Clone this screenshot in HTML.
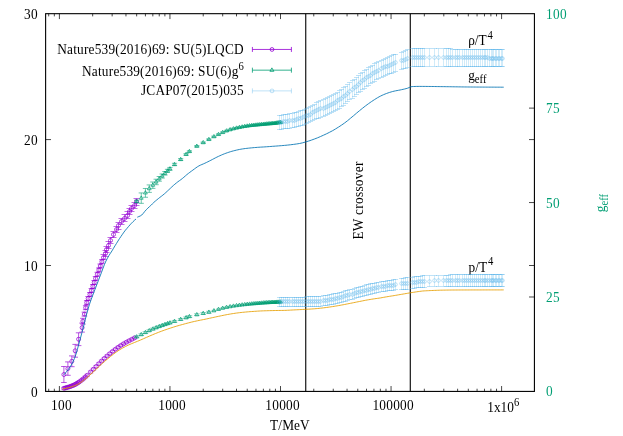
<!DOCTYPE html>
<html><head><meta charset="utf-8"><title>plot</title>
<style>html,body{margin:0;padding:0;background:#fff;}svg{display:block;will-change:transform;filter:blur(0.32px);}text{font-family:"Liberation Serif",serif;}</style></head>
<body>
<svg width="623" height="436" viewBox="0 0 623 436" font-family="'Liberation Serif', serif" font-size="13.33px">
<rect x="0" y="0" width="623" height="436" fill="#fff"/>
<path d="M48.69 391.42v-2.70M48.69 13.68v2.70M54.34 391.42v-2.70M54.34 13.68v2.70M59.40 391.42v-5.40M59.40 13.68v5.40M92.68 391.42v-2.70M92.68 13.68v2.70M112.15 391.42v-2.70M112.15 13.68v2.70M125.96 391.42v-2.70M125.96 13.68v2.70M136.67 391.42v-2.70M136.67 13.68v2.70M145.42 391.42v-2.70M145.42 13.68v2.70M152.83 391.42v-2.70M152.83 13.68v2.70M159.24 391.42v-2.70M159.24 13.68v2.70M164.89 391.42v-2.70M164.89 13.68v2.70M169.95 391.42v-5.40M169.95 13.68v5.40M203.23 391.42v-2.70M203.23 13.68v2.70M222.70 391.42v-2.70M222.70 13.68v2.70M236.51 391.42v-2.70M236.51 13.68v2.70M247.22 391.42v-2.70M247.22 13.68v2.70M255.97 391.42v-2.70M255.97 13.68v2.70M263.38 391.42v-2.70M263.38 13.68v2.70M269.79 391.42v-2.70M269.79 13.68v2.70M275.44 391.42v-2.70M275.44 13.68v2.70M280.50 391.42v-5.40M280.50 13.68v5.40M313.78 391.42v-2.70M313.78 13.68v2.70M333.25 391.42v-2.70M333.25 13.68v2.70M347.06 391.42v-2.70M347.06 13.68v2.70M357.77 391.42v-2.70M357.77 13.68v2.70M366.52 391.42v-2.70M366.52 13.68v2.70M373.93 391.42v-2.70M373.93 13.68v2.70M380.34 391.42v-2.70M380.34 13.68v2.70M385.99 391.42v-2.70M385.99 13.68v2.70M391.05 391.42v-5.40M391.05 13.68v5.40M424.33 391.42v-2.70M424.33 13.68v2.70M443.80 391.42v-2.70M443.80 13.68v2.70M457.61 391.42v-2.70M457.61 13.68v2.70M468.32 391.42v-2.70M468.32 13.68v2.70M477.07 391.42v-2.70M477.07 13.68v2.70M484.48 391.42v-2.70M484.48 13.68v2.70M490.89 391.42v-2.70M490.89 13.68v2.70M496.54 391.42v-2.70M496.54 13.68v2.70M501.60 391.42v-5.40M501.60 13.68v5.40M45.62 265.51h5.40M534.42 265.51h-5.40M45.62 139.59h5.40M534.42 139.59h-5.40M534.42 296.99h-5.40M534.42 202.55h-5.40M534.42 108.12h-5.40" stroke="#000" stroke-width="1" stroke-opacity="0.72" fill="none"/>
<text transform="translate(37.7 396.52) scale(1 1.080)" text-anchor="end" textLength="6.9">0</text>
<text transform="translate(37.7 270.61) scale(1 1.080)" text-anchor="end" textLength="13.7">10</text>
<text transform="translate(37.7 144.69) scale(1 1.080)" text-anchor="end" textLength="13.7">20</text>
<text transform="translate(37.7 18.78) scale(1 1.080)" text-anchor="end" textLength="13.7">30</text>
<text transform="translate(546 396.42) scale(1 1.080)" fill="#009E73" textLength="6.9">0</text>
<text transform="translate(546 301.99) scale(1 1.080)" fill="#009E73" textLength="13.7">25</text>
<text transform="translate(546 207.55) scale(1 1.080)" fill="#009E73" textLength="13.7">50</text>
<text transform="translate(546 113.12) scale(1 1.080)" fill="#009E73" textLength="13.7">75</text>
<text transform="translate(546 18.68) scale(1 1.080)" fill="#009E73" textLength="20.6">100</text>
<text transform="translate(61.40 409.8) scale(1 1.080)" text-anchor="middle" textLength="20.6">100</text>
<text transform="translate(171.95 409.8) scale(1 1.080)" text-anchor="middle" textLength="27.5">1000</text>
<text transform="translate(282.50 409.8) scale(1 1.080)" text-anchor="middle" textLength="34.3">10000</text>
<text transform="translate(393.05 409.8) scale(1 1.080)" text-anchor="middle" textLength="41.2">100000</text>
<text transform="translate(487.3 412.2) scale(1 1.080)">1x10<tspan font-size="10.66px" dy="-6.2">6</tspan></text>
<text transform="translate(289.9 430.1) scale(1 1.080)" text-anchor="middle" textLength="39.6">T/MeV</text>
<text transform="translate(605.0 212.2) rotate(-90) scale(1 1.080)" fill="#009E73">g<tspan font-size="10.66px" dy="2.6">eff</tspan></text>
<text transform="translate(362.6 239.6) rotate(-90) scale(1 1.080)" textLength="78">EW crossover</text>
<text transform="translate(468.2 45.3) scale(1 1.080)">ρ/T<tspan font-size="10.66px" dy="-6.2" dx="0.8">4</tspan></text>
<text transform="translate(468.2 79.9) scale(1 1.080)">g<tspan font-size="10.66px" dy="2.6">eff</tspan></text>
<text transform="translate(468.6 271.9) scale(1 1.080)">p/T<tspan font-size="10.66px" dy="-6.2" dx="0.8">4</tspan></text>
<text transform="translate(57.2 53.7) scale(1 1.080)" textLength="186.4">Nature539(2016)69: SU(5)LQCD</text>
<path d="M252.40 49.45H291.40M252.40 46.95v5.00M291.40 46.95v5.00" stroke="#9400D3" stroke-width="1.00" stroke-opacity="0.80" fill="none"/>
<circle cx="272.00" cy="49.45" r="1.90" fill="none" stroke="#9400D3" stroke-width="1.00" stroke-opacity="0.80"/>
<text transform="translate(82.0 76.0) scale(1 1.080)" textLength="156.4">Nature539(2016)69: SU(6)g</text>
<text transform="translate(238.6 69.8) scale(1 1.080)" font-size="10.66px">6</text>
<path d="M252.40 70.17H291.40M252.40 67.67v5.00M291.40 67.67v5.00" stroke="#009E73" stroke-width="1.00" stroke-opacity="0.80" fill="none"/>
<path d="M271.90 67.87L269.91 71.32L273.89 71.32Z" fill="none" stroke="#009E73" stroke-width="1.00" stroke-opacity="0.80"/>
<text transform="translate(141.0 95.1) scale(1 1.080)" textLength="102.6">JCAP07(2015)035</text>
<path d="M252.40 90.89H291.40M252.40 88.39v5.00M291.40 88.39v5.00" stroke="#56B4E9" stroke-width="1.00" stroke-opacity="0.38" fill="none"/>
<circle cx="272.00" cy="90.89" r="1.90" fill="none" stroke="#56B4E9" stroke-width="1.00" stroke-opacity="0.38"/>
<path d="M305.75 13.68V391.42M410.28 13.68V391.42" stroke="#000" stroke-width="1.1" fill="none"/>
<g><path d="M63.90 366.50V382.50M61.10 366.50H66.70M61.10 382.50H66.70" stroke="#9400D3" stroke-width="1.00" stroke-opacity="0.65" fill="none"/><circle cx="63.90" cy="374.50" r="2.00" fill="none" stroke="#9400D3" stroke-width="1.00" stroke-opacity="0.72"/><path d="M67.90 361.90V375.30M65.10 361.90H70.70M65.10 375.30H70.70" stroke="#9400D3" stroke-width="1.00" stroke-opacity="0.65" fill="none"/><circle cx="67.90" cy="368.60" r="2.00" fill="none" stroke="#9400D3" stroke-width="1.00" stroke-opacity="0.72"/><path d="M71.80 355.90V366.70M69.00 355.90H74.60M69.00 366.70H74.60" stroke="#9400D3" stroke-width="1.00" stroke-opacity="0.65" fill="none"/><circle cx="71.80" cy="361.30" r="2.00" fill="none" stroke="#9400D3" stroke-width="1.00" stroke-opacity="0.72"/><path d="M75.20 344.40V357.20M72.40 344.40H78.00M72.40 357.20H78.00" stroke="#9400D3" stroke-width="1.00" stroke-opacity="0.65" fill="none"/><circle cx="75.20" cy="350.80" r="2.00" fill="none" stroke="#9400D3" stroke-width="1.00" stroke-opacity="0.72"/><path d="M78.60 332.80V345.60M75.80 332.80H81.40M75.80 345.60H81.40" stroke="#9400D3" stroke-width="1.00" stroke-opacity="0.65" fill="none"/><circle cx="78.60" cy="339.20" r="2.00" fill="none" stroke="#9400D3" stroke-width="1.00" stroke-opacity="0.72"/><path d="M82.10 323.10V332.10M79.30 323.10H84.90M79.30 332.10H84.90" stroke="#9400D3" stroke-width="1.00" stroke-opacity="0.65" fill="none"/><circle cx="82.10" cy="327.60" r="2.00" fill="none" stroke="#9400D3" stroke-width="1.00" stroke-opacity="0.72"/><path d="M82.90 318.30V324.10M80.10 318.30H85.70M80.10 324.10H85.70" stroke="#9400D3" stroke-width="1.00" stroke-opacity="0.65" fill="none"/><circle cx="82.90" cy="321.20" r="2.00" fill="none" stroke="#9400D3" stroke-width="1.00" stroke-opacity="0.72"/><path d="M84.40 312.10V316.10M81.60 312.10H87.20M81.60 316.10H87.20" stroke="#9400D3" stroke-width="1.00" stroke-opacity="0.65" fill="none"/><circle cx="84.40" cy="314.10" r="2.00" fill="none" stroke="#9400D3" stroke-width="1.00" stroke-opacity="0.72"/><path d="M85.70 305.70V309.70M82.90 305.70H88.50M82.90 309.70H88.50" stroke="#9400D3" stroke-width="1.00" stroke-opacity="0.65" fill="none"/><circle cx="85.70" cy="307.70" r="2.00" fill="none" stroke="#9400D3" stroke-width="1.00" stroke-opacity="0.72"/><path d="M86.74 300.60V304.60M83.94 300.60H89.54M83.94 304.60H89.54" stroke="#9400D3" stroke-width="1.00" stroke-opacity="0.65" fill="none"/><circle cx="86.74" cy="302.60" r="2.00" fill="none" stroke="#9400D3" stroke-width="1.00" stroke-opacity="0.72"/><path d="M88.13 296.50V300.50M85.33 296.50H90.93M85.33 300.50H90.93" stroke="#9400D3" stroke-width="1.00" stroke-opacity="0.65" fill="none"/><circle cx="88.13" cy="298.50" r="2.00" fill="none" stroke="#9400D3" stroke-width="1.00" stroke-opacity="0.72"/><path d="M89.92 292.50V296.50M87.12 292.50H92.72M87.12 296.50H92.72" stroke="#9400D3" stroke-width="1.00" stroke-opacity="0.65" fill="none"/><circle cx="89.92" cy="294.50" r="2.00" fill="none" stroke="#9400D3" stroke-width="1.00" stroke-opacity="0.72"/><path d="M91.42 288.50V292.50M88.62 288.50H94.22M88.62 292.50H94.22" stroke="#9400D3" stroke-width="1.00" stroke-opacity="0.65" fill="none"/><circle cx="91.42" cy="290.50" r="2.00" fill="none" stroke="#9400D3" stroke-width="1.00" stroke-opacity="0.72"/><path d="M92.87 284.50V288.50M90.07 284.50H95.67M90.07 288.50H95.67" stroke="#9400D3" stroke-width="1.00" stroke-opacity="0.65" fill="none"/><circle cx="92.87" cy="286.50" r="2.00" fill="none" stroke="#9400D3" stroke-width="1.00" stroke-opacity="0.72"/><path d="M94.21 280.50V284.50M91.41 280.50H97.01M91.41 284.50H97.01" stroke="#9400D3" stroke-width="1.00" stroke-opacity="0.65" fill="none"/><circle cx="94.21" cy="282.50" r="2.00" fill="none" stroke="#9400D3" stroke-width="1.00" stroke-opacity="0.72"/><path d="M95.55 276.50V280.50M92.75 276.50H98.35M92.75 280.50H98.35" stroke="#9400D3" stroke-width="1.00" stroke-opacity="0.65" fill="none"/><circle cx="95.55" cy="278.50" r="2.00" fill="none" stroke="#9400D3" stroke-width="1.00" stroke-opacity="0.72"/><path d="M97.32 272.30V276.30M94.52 272.30H100.12M94.52 276.30H100.12" stroke="#9400D3" stroke-width="1.00" stroke-opacity="0.65" fill="none"/><circle cx="97.32" cy="274.30" r="2.00" fill="none" stroke="#9400D3" stroke-width="1.00" stroke-opacity="0.72"/><path d="M98.88 268.00V272.00M96.08 268.00H101.68M96.08 272.00H101.68" stroke="#9400D3" stroke-width="1.00" stroke-opacity="0.65" fill="none"/><circle cx="98.88" cy="270.00" r="2.00" fill="none" stroke="#9400D3" stroke-width="1.00" stroke-opacity="0.72"/><path d="M100.27 264.00V268.00M97.47 264.00H103.07M97.47 268.00H103.07" stroke="#9400D3" stroke-width="1.00" stroke-opacity="0.65" fill="none"/><circle cx="100.27" cy="266.00" r="2.00" fill="none" stroke="#9400D3" stroke-width="1.00" stroke-opacity="0.72"/><path d="M101.90 259.68V263.72M99.10 259.68H104.70M99.10 263.72H104.70" stroke="#9400D3" stroke-width="1.00" stroke-opacity="0.65" fill="none"/><circle cx="101.90" cy="261.70" r="2.00" fill="none" stroke="#9400D3" stroke-width="1.00" stroke-opacity="0.72"/><path d="M103.50 254.50V259.50M100.50 254.50H106.50M100.50 259.50H106.50" stroke="#9400D3" stroke-width="1.00" stroke-opacity="0.58" fill="none"/><circle cx="103.50" cy="257.50" r="2.00" fill="none" stroke="#9400D3" stroke-width="1.00" stroke-opacity="0.72"/><path d="M105.50 250.50V256.50M102.50 250.50H108.50M102.50 256.50H108.50" stroke="#9400D3" stroke-width="1.00" stroke-opacity="0.58" fill="none"/><circle cx="105.50" cy="253.50" r="2.00" fill="none" stroke="#9400D3" stroke-width="1.00" stroke-opacity="0.72"/><path d="M106.50 246.50V252.50M103.50 246.50H109.50M103.50 252.50H109.50" stroke="#9400D3" stroke-width="1.00" stroke-opacity="0.58" fill="none"/><circle cx="106.50" cy="249.50" r="2.00" fill="none" stroke="#9400D3" stroke-width="1.00" stroke-opacity="0.72"/><path d="M108.50 241.50V248.50M105.50 241.50H111.50M105.50 248.50H111.50" stroke="#9400D3" stroke-width="1.00" stroke-opacity="0.58" fill="none"/><circle cx="108.50" cy="245.50" r="2.00" fill="none" stroke="#9400D3" stroke-width="1.00" stroke-opacity="0.72"/><path d="M110.50 237.50V243.50M107.50 237.50H113.50M107.50 243.50H113.50" stroke="#9400D3" stroke-width="1.00" stroke-opacity="0.58" fill="none"/><circle cx="110.50" cy="240.50" r="2.00" fill="none" stroke="#9400D3" stroke-width="1.00" stroke-opacity="0.72"/><path d="M113.50 231.50V237.50M110.50 231.50H116.50M110.50 237.50H116.50" stroke="#9400D3" stroke-width="1.00" stroke-opacity="0.58" fill="none"/><circle cx="113.50" cy="234.50" r="2.00" fill="none" stroke="#9400D3" stroke-width="1.00" stroke-opacity="0.72"/><path d="M116.50 226.50V232.50M113.50 226.50H119.50M113.50 232.50H119.50" stroke="#9400D3" stroke-width="1.00" stroke-opacity="0.58" fill="none"/><circle cx="116.50" cy="229.50" r="2.00" fill="none" stroke="#9400D3" stroke-width="1.00" stroke-opacity="0.72"/><path d="M118.50 222.50V229.50M115.50 222.50H121.50M115.50 229.50H121.50" stroke="#9400D3" stroke-width="1.00" stroke-opacity="0.58" fill="none"/><circle cx="118.50" cy="225.50" r="2.00" fill="none" stroke="#9400D3" stroke-width="1.00" stroke-opacity="0.72"/><path d="M121.50 218.50V224.50M118.50 218.50H124.50M118.50 224.50H124.50" stroke="#9400D3" stroke-width="1.00" stroke-opacity="0.58" fill="none"/><circle cx="121.50" cy="221.50" r="2.00" fill="none" stroke="#9400D3" stroke-width="1.00" stroke-opacity="0.72"/><path d="M124.50 214.50V221.50M121.50 214.50H127.50M121.50 221.50H127.50" stroke="#9400D3" stroke-width="1.00" stroke-opacity="0.58" fill="none"/><circle cx="124.50" cy="218.50" r="2.00" fill="none" stroke="#9400D3" stroke-width="1.00" stroke-opacity="0.72"/><path d="M127.50 211.50V218.50M124.50 211.50H130.50M124.50 218.50H130.50" stroke="#9400D3" stroke-width="1.00" stroke-opacity="0.58" fill="none"/><circle cx="127.50" cy="215.50" r="2.00" fill="none" stroke="#9400D3" stroke-width="1.00" stroke-opacity="0.72"/><path d="M129.50 208.50V214.50M126.50 208.50H132.50M126.50 214.50H132.50" stroke="#9400D3" stroke-width="1.00" stroke-opacity="0.58" fill="none"/><circle cx="129.50" cy="211.50" r="2.00" fill="none" stroke="#9400D3" stroke-width="1.00" stroke-opacity="0.72"/><path d="M131.50 205.50V211.50M128.50 205.50H134.50M128.50 211.50H134.50" stroke="#9400D3" stroke-width="1.00" stroke-opacity="0.58" fill="none"/><circle cx="131.50" cy="208.50" r="2.00" fill="none" stroke="#9400D3" stroke-width="1.00" stroke-opacity="0.72"/><path d="M134.50 202.50V208.50M131.50 202.50H137.50M131.50 208.50H137.50" stroke="#9400D3" stroke-width="1.00" stroke-opacity="0.58" fill="none"/><circle cx="134.50" cy="205.50" r="2.00" fill="none" stroke="#9400D3" stroke-width="1.00" stroke-opacity="0.72"/><path d="M136.50 198.50V205.50M133.50 198.50H139.50M133.50 205.50H139.50" stroke="#9400D3" stroke-width="1.00" stroke-opacity="0.58" fill="none"/><circle cx="136.50" cy="201.50" r="2.00" fill="none" stroke="#9400D3" stroke-width="1.00" stroke-opacity="0.72"/><path d="M136.67 200.28V202.68M134.07 200.28H139.27M134.07 202.68H139.27" stroke="#009E73" stroke-width="1.00" stroke-opacity="0.58" fill="none"/><path d="M136.67 199.28L134.77 202.58L138.58 202.58Z" fill="none" stroke="#009E73" stroke-width="1.00" stroke-opacity="0.72"/><path d="M141.25 192.93V203.33M138.65 192.93H143.85M138.65 203.33H143.85" stroke="#009E73" stroke-width="1.00" stroke-opacity="0.58" fill="none"/><path d="M141.25 195.93L139.34 199.23L143.15 199.23Z" fill="none" stroke="#009E73" stroke-width="1.00" stroke-opacity="0.72"/><path d="M145.42 188.49V197.28M142.82 188.49H148.02M142.82 197.28H148.02" stroke="#009E73" stroke-width="1.00" stroke-opacity="0.58" fill="none"/><path d="M145.42 190.69L143.52 193.99L147.33 193.99Z" fill="none" stroke="#009E73" stroke-width="1.00" stroke-opacity="0.72"/><path d="M149.27 184.91V192.37M146.67 184.91H151.87M146.67 192.37H151.87" stroke="#009E73" stroke-width="1.00" stroke-opacity="0.58" fill="none"/><path d="M149.27 186.44L147.36 189.74L151.17 189.74Z" fill="none" stroke="#009E73" stroke-width="1.00" stroke-opacity="0.72"/><path d="M152.83 181.99V188.36M150.23 181.99H155.43M150.23 188.36H155.43" stroke="#009E73" stroke-width="1.00" stroke-opacity="0.58" fill="none"/><path d="M152.83 182.98L150.92 186.28L154.73 186.28Z" fill="none" stroke="#009E73" stroke-width="1.00" stroke-opacity="0.72"/><path d="M156.14 179.23V184.69M153.54 179.23H158.74M153.54 184.69H158.74" stroke="#009E73" stroke-width="1.00" stroke-opacity="0.58" fill="none"/><path d="M156.14 179.76L154.23 183.06L158.04 183.06Z" fill="none" stroke="#009E73" stroke-width="1.00" stroke-opacity="0.72"/><path d="M159.24 176.50V181.22M156.64 176.50H161.84M156.64 181.22H161.84" stroke="#009E73" stroke-width="1.00" stroke-opacity="0.58" fill="none"/><path d="M159.24 176.66L157.33 179.96L161.14 179.96Z" fill="none" stroke="#009E73" stroke-width="1.00" stroke-opacity="0.72"/><path d="M162.15 174.00V178.10M159.55 174.00H164.75M159.55 178.10H164.75" stroke="#009E73" stroke-width="1.00" stroke-opacity="0.58" fill="none"/><path d="M162.15 173.85L160.24 177.15L164.05 177.15Z" fill="none" stroke="#009E73" stroke-width="1.00" stroke-opacity="0.72"/><path d="M164.89 171.51V175.11M162.29 171.51H167.49M162.29 175.11H167.49" stroke="#009E73" stroke-width="1.00" stroke-opacity="0.58" fill="none"/><path d="M164.89 171.11L162.99 174.41L166.80 174.41Z" fill="none" stroke="#009E73" stroke-width="1.00" stroke-opacity="0.72"/><path d="M167.49 169.34V172.51M164.89 169.34H170.09M164.89 172.51H170.09" stroke="#009E73" stroke-width="1.00" stroke-opacity="0.58" fill="none"/><path d="M167.49 168.72L165.58 172.02L169.39 172.02Z" fill="none" stroke="#009E73" stroke-width="1.00" stroke-opacity="0.72"/><path d="M169.95 167.44V170.27M167.35 167.44H172.55M167.35 170.27H172.55" stroke="#009E73" stroke-width="1.00" stroke-opacity="0.58" fill="none"/><path d="M169.95 166.66L168.04 169.96L171.86 169.96Z" fill="none" stroke="#009E73" stroke-width="1.00" stroke-opacity="0.72"/><path d="M174.53 163.31V165.62M171.93 163.31H177.13M171.93 165.62H177.13" stroke="#009E73" stroke-width="1.00" stroke-opacity="0.58" fill="none"/><path d="M174.53 162.27L172.62 165.57L176.43 165.57Z" fill="none" stroke="#009E73" stroke-width="1.00" stroke-opacity="0.72"/><path d="M180.66 158.61V160.43M178.06 158.61H183.26M178.06 160.43H183.26" stroke="#009E73" stroke-width="1.00" stroke-opacity="0.58" fill="none"/><path d="M180.66 157.32L178.76 160.62L182.57 160.62Z" fill="none" stroke="#009E73" stroke-width="1.00" stroke-opacity="0.72"/><path d="M186.10 153.61V155.16M183.50 153.61H188.70M183.50 155.16H188.70" stroke="#009E73" stroke-width="1.00" stroke-opacity="0.58" fill="none"/><path d="M186.10 152.19L184.20 155.49L188.01 155.49Z" fill="none" stroke="#009E73" stroke-width="1.00" stroke-opacity="0.72"/><path d="M189.42 150.79V152.23M186.82 150.79H192.02M186.82 152.23H192.02" stroke="#009E73" stroke-width="1.00" stroke-opacity="0.58" fill="none"/><path d="M189.42 149.31L187.51 152.61L191.32 152.61Z" fill="none" stroke="#009E73" stroke-width="1.00" stroke-opacity="0.72"/><path d="M196.82 145.58V146.87M194.22 145.58H199.42M194.22 146.87H199.42" stroke="#009E73" stroke-width="1.00" stroke-opacity="0.58" fill="none"/><path d="M196.82 144.03L194.91 147.33L198.72 147.33Z" fill="none" stroke="#009E73" stroke-width="1.00" stroke-opacity="0.72"/><path d="M203.23 142.01V143.24M200.63 142.01H205.83M200.63 143.24H205.83" stroke="#009E73" stroke-width="1.00" stroke-opacity="0.58" fill="none"/><path d="M203.23 140.43L201.32 143.73L205.13 143.73Z" fill="none" stroke="#009E73" stroke-width="1.00" stroke-opacity="0.72"/><path d="M208.88 138.85V140.06M206.28 138.85H211.48M206.28 140.06H211.48" stroke="#009E73" stroke-width="1.00" stroke-opacity="0.58" fill="none"/><path d="M208.88 137.25L206.98 140.55L210.79 140.55Z" fill="none" stroke="#009E73" stroke-width="1.00" stroke-opacity="0.72"/><path d="M213.94 136.08V137.28M211.34 136.08H216.54M211.34 137.28H216.54" stroke="#009E73" stroke-width="1.00" stroke-opacity="0.58" fill="none"/><path d="M213.94 134.48L212.04 137.78L215.85 137.78Z" fill="none" stroke="#009E73" stroke-width="1.00" stroke-opacity="0.72"/><path d="M218.52 133.84V135.05M215.92 133.84H221.12M215.92 135.05H221.12" stroke="#009E73" stroke-width="1.00" stroke-opacity="0.58" fill="none"/><path d="M218.52 132.24L216.61 135.54L220.42 135.54Z" fill="none" stroke="#009E73" stroke-width="1.00" stroke-opacity="0.72"/><path d="M222.70 131.87V133.08M220.10 131.87H225.30M220.10 133.08H225.30" stroke="#009E73" stroke-width="1.00" stroke-opacity="0.58" fill="none"/><path d="M222.70 130.27L220.79 133.57L224.60 133.57Z" fill="none" stroke="#009E73" stroke-width="1.00" stroke-opacity="0.72"/><path d="M226.54 130.30V131.51M223.94 130.30H229.14M223.94 131.51H229.14" stroke="#009E73" stroke-width="1.00" stroke-opacity="0.58" fill="none"/><path d="M226.54 128.70L224.63 132.00L228.44 132.00Z" fill="none" stroke="#009E73" stroke-width="1.00" stroke-opacity="0.72"/><path d="M230.10 129.12V130.32M227.50 129.12H232.70M227.50 130.32H232.70" stroke="#009E73" stroke-width="1.00" stroke-opacity="0.58" fill="none"/><path d="M230.10 127.52L228.19 130.82L232.00 130.82Z" fill="none" stroke="#009E73" stroke-width="1.00" stroke-opacity="0.72"/><path d="M233.41 128.18V129.38M230.81 128.18H236.01M230.81 129.38H236.01" stroke="#009E73" stroke-width="1.00" stroke-opacity="0.58" fill="none"/><path d="M233.41 126.58L231.50 129.88L235.31 129.88Z" fill="none" stroke="#009E73" stroke-width="1.00" stroke-opacity="0.72"/><path d="M236.51 127.43V128.63M233.91 127.43H239.11M233.91 128.63H239.11" stroke="#009E73" stroke-width="1.00" stroke-opacity="0.58" fill="none"/><path d="M236.51 125.83L234.60 129.13L238.41 129.13Z" fill="none" stroke="#009E73" stroke-width="1.00" stroke-opacity="0.72"/><path d="M239.42 126.81V128.01M236.82 126.81H242.02M236.82 128.01H242.02" stroke="#009E73" stroke-width="1.00" stroke-opacity="0.58" fill="none"/><path d="M239.42 125.21L237.51 128.51L241.32 128.51Z" fill="none" stroke="#009E73" stroke-width="1.00" stroke-opacity="0.72"/><path d="M242.16 126.29V127.49M239.56 126.29H244.76M239.56 127.49H244.76" stroke="#009E73" stroke-width="1.00" stroke-opacity="0.58" fill="none"/><path d="M242.16 124.69L240.26 127.99L244.07 127.99Z" fill="none" stroke="#009E73" stroke-width="1.00" stroke-opacity="0.72"/><path d="M244.76 125.82V127.02M242.16 125.82H247.36M242.16 127.02H247.36" stroke="#009E73" stroke-width="1.00" stroke-opacity="0.58" fill="none"/><path d="M244.76 124.22L242.85 127.52L246.66 127.52Z" fill="none" stroke="#009E73" stroke-width="1.00" stroke-opacity="0.72"/><path d="M247.22 125.41V126.61M244.62 125.41H249.82M244.62 126.61H249.82" stroke="#009E73" stroke-width="1.00" stroke-opacity="0.58" fill="none"/><path d="M247.22 123.81L245.32 127.11L249.13 127.11Z" fill="none" stroke="#009E73" stroke-width="1.00" stroke-opacity="0.72"/><path d="M249.56 125.07V126.27M246.96 125.07H252.16M246.96 126.27H252.16" stroke="#009E73" stroke-width="1.00" stroke-opacity="0.58" fill="none"/><path d="M249.56 123.47L247.66 126.77L251.47 126.77Z" fill="none" stroke="#009E73" stroke-width="1.00" stroke-opacity="0.72"/><path d="M251.80 124.81V126.01M249.20 124.81H254.40M249.20 126.01H254.40" stroke="#009E73" stroke-width="1.00" stroke-opacity="0.58" fill="none"/><path d="M251.80 123.21L249.89 126.51L253.70 126.51Z" fill="none" stroke="#009E73" stroke-width="1.00" stroke-opacity="0.72"/><path d="M253.93 124.59V125.79M251.33 124.59H256.53M251.33 125.79H256.53" stroke="#009E73" stroke-width="1.00" stroke-opacity="0.58" fill="none"/><path d="M253.93 122.99L252.03 126.29L255.84 126.29Z" fill="none" stroke="#009E73" stroke-width="1.00" stroke-opacity="0.72"/><path d="M255.97 124.40V125.60M253.37 124.40H258.57M253.37 125.60H258.57" stroke="#009E73" stroke-width="1.00" stroke-opacity="0.58" fill="none"/><path d="M255.97 122.80L254.07 126.10L257.88 126.10Z" fill="none" stroke="#009E73" stroke-width="1.00" stroke-opacity="0.72"/><path d="M257.93 124.22V125.42M255.33 124.22H260.53M255.33 125.42H260.53" stroke="#009E73" stroke-width="1.00" stroke-opacity="0.58" fill="none"/><path d="M257.93 122.62L256.03 125.92L259.84 125.92Z" fill="none" stroke="#009E73" stroke-width="1.00" stroke-opacity="0.72"/><path d="M259.82 124.03V125.23M257.22 124.03H262.42M257.22 125.23H262.42" stroke="#009E73" stroke-width="1.00" stroke-opacity="0.58" fill="none"/><path d="M259.82 122.43L257.91 125.73L261.72 125.73Z" fill="none" stroke="#009E73" stroke-width="1.00" stroke-opacity="0.72"/><path d="M261.63 123.85V125.05M259.03 123.85H264.23M259.03 125.05H264.23" stroke="#009E73" stroke-width="1.00" stroke-opacity="0.58" fill="none"/><path d="M261.63 122.25L259.72 125.55L263.53 125.55Z" fill="none" stroke="#009E73" stroke-width="1.00" stroke-opacity="0.72"/><path d="M263.38 123.67V124.87M260.78 123.67H265.98M260.78 124.87H265.98" stroke="#009E73" stroke-width="1.00" stroke-opacity="0.58" fill="none"/><path d="M263.38 122.07L261.47 125.37L265.28 125.37Z" fill="none" stroke="#009E73" stroke-width="1.00" stroke-opacity="0.72"/><path d="M265.06 123.51V124.71M262.46 123.51H267.66M262.46 124.71H267.66" stroke="#009E73" stroke-width="1.00" stroke-opacity="0.58" fill="none"/><path d="M265.06 121.91L263.16 125.21L266.97 125.21Z" fill="none" stroke="#009E73" stroke-width="1.00" stroke-opacity="0.72"/><path d="M266.69 123.36V124.56M264.09 123.36H269.29M264.09 124.56H269.29" stroke="#009E73" stroke-width="1.00" stroke-opacity="0.58" fill="none"/><path d="M266.69 121.76L264.78 125.06L268.59 125.06Z" fill="none" stroke="#009E73" stroke-width="1.00" stroke-opacity="0.72"/><path d="M268.26 123.22V124.42M265.66 123.22H270.86M265.66 124.42H270.86" stroke="#009E73" stroke-width="1.00" stroke-opacity="0.58" fill="none"/><path d="M268.26 121.62L266.36 124.92L270.17 124.92Z" fill="none" stroke="#009E73" stroke-width="1.00" stroke-opacity="0.72"/><path d="M269.79 123.10V124.30M267.19 123.10H272.39M267.19 124.30H272.39" stroke="#009E73" stroke-width="1.00" stroke-opacity="0.58" fill="none"/><path d="M269.79 121.50L267.88 124.80L271.69 124.80Z" fill="none" stroke="#009E73" stroke-width="1.00" stroke-opacity="0.72"/><path d="M271.26 122.98V124.18M268.66 122.98H273.86M268.66 124.18H273.86" stroke="#009E73" stroke-width="1.00" stroke-opacity="0.58" fill="none"/><path d="M271.26 121.38L269.36 124.68L273.17 124.68Z" fill="none" stroke="#009E73" stroke-width="1.00" stroke-opacity="0.72"/><path d="M272.70 122.85V124.05M270.10 122.85H275.30M270.10 124.05H275.30" stroke="#009E73" stroke-width="1.00" stroke-opacity="0.58" fill="none"/><path d="M272.70 121.25L270.79 124.55L274.60 124.55Z" fill="none" stroke="#009E73" stroke-width="1.00" stroke-opacity="0.72"/><path d="M274.09 122.71V123.91M271.49 122.71H276.69M271.49 123.91H276.69" stroke="#009E73" stroke-width="1.00" stroke-opacity="0.58" fill="none"/><path d="M274.09 121.11L272.18 124.41L275.99 124.41Z" fill="none" stroke="#009E73" stroke-width="1.00" stroke-opacity="0.72"/><path d="M275.44 122.55V123.75M272.84 122.55H278.04M272.84 123.75H278.04" stroke="#009E73" stroke-width="1.00" stroke-opacity="0.58" fill="none"/><path d="M275.44 120.95L273.54 124.25L277.35 124.25Z" fill="none" stroke="#009E73" stroke-width="1.00" stroke-opacity="0.72"/><path d="M276.76 122.37V123.57M274.16 122.37H279.36M274.16 123.57H279.36" stroke="#009E73" stroke-width="1.00" stroke-opacity="0.58" fill="none"/><path d="M276.76 120.77L274.85 124.07L278.66 124.07Z" fill="none" stroke="#009E73" stroke-width="1.00" stroke-opacity="0.72"/><path d="M278.04 122.19V123.39M275.44 122.19H280.64M275.44 123.39H280.64" stroke="#009E73" stroke-width="1.00" stroke-opacity="0.58" fill="none"/><path d="M278.04 120.59L276.13 123.89L279.94 123.89Z" fill="none" stroke="#009E73" stroke-width="1.00" stroke-opacity="0.72"/><path d="M279.28 122.00V123.20M276.68 122.00H281.88M276.68 123.20H281.88" stroke="#009E73" stroke-width="1.00" stroke-opacity="0.58" fill="none"/><path d="M279.28 120.40L277.38 123.70L281.19 123.70Z" fill="none" stroke="#009E73" stroke-width="1.00" stroke-opacity="0.72"/><path d="M280.50 121.81V123.01M277.90 121.81H283.10M277.90 123.01H283.10" stroke="#009E73" stroke-width="1.00" stroke-opacity="0.58" fill="none"/><path d="M280.50 120.21L278.59 123.51L282.41 123.51Z" fill="none" stroke="#009E73" stroke-width="1.00" stroke-opacity="0.72"/><path d="M279.50 115.50V129.50" stroke="#56B4E9" stroke-width="1.00" stroke-opacity="0.27" fill="none"/><path d="M277.00 115.50H282.00M277.00 129.50H282.00" stroke="#56B4E9" stroke-width="1.00" stroke-opacity="0.38" fill="none"/><circle cx="279.50" cy="122.50" r="1.80" fill="none" stroke="#56B4E9" stroke-width="1.00" stroke-opacity="0.38"/><path d="M281.50 115.50V129.50" stroke="#56B4E9" stroke-width="1.00" stroke-opacity="0.27" fill="none"/><path d="M279.00 115.50H284.00M279.00 129.50H284.00" stroke="#56B4E9" stroke-width="1.00" stroke-opacity="0.38" fill="none"/><circle cx="281.50" cy="122.50" r="1.80" fill="none" stroke="#56B4E9" stroke-width="1.00" stroke-opacity="0.38"/><path d="M283.50 114.50V128.50" stroke="#56B4E9" stroke-width="1.00" stroke-opacity="0.27" fill="none"/><path d="M281.00 114.50H286.00M281.00 128.50H286.00" stroke="#56B4E9" stroke-width="1.00" stroke-opacity="0.38" fill="none"/><circle cx="283.50" cy="121.50" r="1.80" fill="none" stroke="#56B4E9" stroke-width="1.00" stroke-opacity="0.38"/><path d="M285.50 114.50V128.50" stroke="#56B4E9" stroke-width="1.00" stroke-opacity="0.27" fill="none"/><path d="M283.00 114.50H288.00M283.00 128.50H288.00" stroke="#56B4E9" stroke-width="1.00" stroke-opacity="0.38" fill="none"/><circle cx="285.50" cy="121.50" r="1.80" fill="none" stroke="#56B4E9" stroke-width="1.00" stroke-opacity="0.38"/><path d="M287.50 114.50V128.50" stroke="#56B4E9" stroke-width="1.00" stroke-opacity="0.27" fill="none"/><path d="M285.00 114.50H290.00M285.00 128.50H290.00" stroke="#56B4E9" stroke-width="1.00" stroke-opacity="0.38" fill="none"/><circle cx="287.50" cy="121.50" r="1.80" fill="none" stroke="#56B4E9" stroke-width="1.00" stroke-opacity="0.38"/><path d="M289.50 113.50V128.50" stroke="#56B4E9" stroke-width="1.00" stroke-opacity="0.27" fill="none"/><path d="M287.00 113.50H292.00M287.00 128.50H292.00" stroke="#56B4E9" stroke-width="1.00" stroke-opacity="0.38" fill="none"/><circle cx="289.50" cy="120.50" r="1.80" fill="none" stroke="#56B4E9" stroke-width="1.00" stroke-opacity="0.38"/><path d="M292.50 113.50V127.50" stroke="#56B4E9" stroke-width="1.00" stroke-opacity="0.27" fill="none"/><path d="M290.00 113.50H295.00M290.00 127.50H295.00" stroke="#56B4E9" stroke-width="1.00" stroke-opacity="0.38" fill="none"/><circle cx="292.50" cy="120.50" r="1.80" fill="none" stroke="#56B4E9" stroke-width="1.00" stroke-opacity="0.38"/><path d="M294.50 112.50V127.50" stroke="#56B4E9" stroke-width="1.00" stroke-opacity="0.27" fill="none"/><path d="M292.00 112.50H297.00M292.00 127.50H297.00" stroke="#56B4E9" stroke-width="1.00" stroke-opacity="0.38" fill="none"/><circle cx="294.50" cy="120.50" r="1.80" fill="none" stroke="#56B4E9" stroke-width="1.00" stroke-opacity="0.38"/><path d="M296.50 112.50V126.50" stroke="#56B4E9" stroke-width="1.00" stroke-opacity="0.27" fill="none"/><path d="M294.00 112.50H299.00M294.00 126.50H299.00" stroke="#56B4E9" stroke-width="1.00" stroke-opacity="0.38" fill="none"/><circle cx="296.50" cy="119.50" r="1.80" fill="none" stroke="#56B4E9" stroke-width="1.00" stroke-opacity="0.38"/><path d="M298.50 111.50V126.50" stroke="#56B4E9" stroke-width="1.00" stroke-opacity="0.27" fill="none"/><path d="M296.00 111.50H301.00M296.00 126.50H301.00" stroke="#56B4E9" stroke-width="1.00" stroke-opacity="0.38" fill="none"/><circle cx="298.50" cy="118.50" r="1.80" fill="none" stroke="#56B4E9" stroke-width="1.00" stroke-opacity="0.38"/><path d="M300.50 110.50V125.50" stroke="#56B4E9" stroke-width="1.00" stroke-opacity="0.27" fill="none"/><path d="M298.00 110.50H303.00M298.00 125.50H303.00" stroke="#56B4E9" stroke-width="1.00" stroke-opacity="0.38" fill="none"/><circle cx="300.50" cy="118.50" r="1.80" fill="none" stroke="#56B4E9" stroke-width="1.00" stroke-opacity="0.38"/><path d="M302.50 110.50V125.50" stroke="#56B4E9" stroke-width="1.00" stroke-opacity="0.27" fill="none"/><path d="M300.00 110.50H305.00M300.00 125.50H305.00" stroke="#56B4E9" stroke-width="1.00" stroke-opacity="0.38" fill="none"/><circle cx="302.50" cy="117.50" r="1.80" fill="none" stroke="#56B4E9" stroke-width="1.00" stroke-opacity="0.38"/><path d="M304.50 109.50V124.50" stroke="#56B4E9" stroke-width="1.00" stroke-opacity="0.27" fill="none"/><path d="M302.00 109.50H307.00M302.00 124.50H307.00" stroke="#56B4E9" stroke-width="1.00" stroke-opacity="0.38" fill="none"/><circle cx="304.50" cy="116.50" r="1.80" fill="none" stroke="#56B4E9" stroke-width="1.00" stroke-opacity="0.38"/><path d="M306.50 108.50V123.50" stroke="#56B4E9" stroke-width="1.00" stroke-opacity="0.27" fill="none"/><path d="M304.00 108.50H309.00M304.00 123.50H309.00" stroke="#56B4E9" stroke-width="1.00" stroke-opacity="0.38" fill="none"/><circle cx="306.50" cy="115.50" r="1.80" fill="none" stroke="#56B4E9" stroke-width="1.00" stroke-opacity="0.38"/><path d="M308.50 107.50V122.50" stroke="#56B4E9" stroke-width="1.00" stroke-opacity="0.27" fill="none"/><path d="M306.00 107.50H311.00M306.00 122.50H311.00" stroke="#56B4E9" stroke-width="1.00" stroke-opacity="0.38" fill="none"/><circle cx="308.50" cy="115.50" r="1.80" fill="none" stroke="#56B4E9" stroke-width="1.00" stroke-opacity="0.38"/><path d="M310.50 106.50V121.50" stroke="#56B4E9" stroke-width="1.00" stroke-opacity="0.27" fill="none"/><path d="M308.00 106.50H313.00M308.00 121.50H313.00" stroke="#56B4E9" stroke-width="1.00" stroke-opacity="0.38" fill="none"/><circle cx="310.50" cy="114.50" r="1.80" fill="none" stroke="#56B4E9" stroke-width="1.00" stroke-opacity="0.38"/><path d="M312.50 105.50V120.50" stroke="#56B4E9" stroke-width="1.00" stroke-opacity="0.27" fill="none"/><path d="M310.00 105.50H315.00M310.00 120.50H315.00" stroke="#56B4E9" stroke-width="1.00" stroke-opacity="0.38" fill="none"/><circle cx="312.50" cy="112.50" r="1.80" fill="none" stroke="#56B4E9" stroke-width="1.00" stroke-opacity="0.38"/><path d="M314.50 104.50V119.50" stroke="#56B4E9" stroke-width="1.00" stroke-opacity="0.27" fill="none"/><path d="M312.00 104.50H317.00M312.00 119.50H317.00" stroke="#56B4E9" stroke-width="1.00" stroke-opacity="0.38" fill="none"/><circle cx="314.50" cy="111.50" r="1.80" fill="none" stroke="#56B4E9" stroke-width="1.00" stroke-opacity="0.38"/><path d="M316.50 102.50V118.50" stroke="#56B4E9" stroke-width="1.00" stroke-opacity="0.27" fill="none"/><path d="M314.00 102.50H319.00M314.00 118.50H319.00" stroke="#56B4E9" stroke-width="1.00" stroke-opacity="0.38" fill="none"/><circle cx="316.50" cy="110.50" r="1.80" fill="none" stroke="#56B4E9" stroke-width="1.00" stroke-opacity="0.38"/><path d="M318.50 101.50V118.50" stroke="#56B4E9" stroke-width="1.00" stroke-opacity="0.27" fill="none"/><path d="M316.00 101.50H321.00M316.00 118.50H321.00" stroke="#56B4E9" stroke-width="1.00" stroke-opacity="0.38" fill="none"/><circle cx="318.50" cy="109.50" r="1.80" fill="none" stroke="#56B4E9" stroke-width="1.00" stroke-opacity="0.38"/><path d="M320.50 100.50V117.50" stroke="#56B4E9" stroke-width="1.00" stroke-opacity="0.27" fill="none"/><path d="M318.00 100.50H323.00M318.00 117.50H323.00" stroke="#56B4E9" stroke-width="1.00" stroke-opacity="0.38" fill="none"/><circle cx="320.50" cy="108.50" r="1.80" fill="none" stroke="#56B4E9" stroke-width="1.00" stroke-opacity="0.38"/><path d="M323.50 99.50V116.50" stroke="#56B4E9" stroke-width="1.00" stroke-opacity="0.27" fill="none"/><path d="M321.00 99.50H326.00M321.00 116.50H326.00" stroke="#56B4E9" stroke-width="1.00" stroke-opacity="0.38" fill="none"/><circle cx="323.50" cy="108.50" r="1.80" fill="none" stroke="#56B4E9" stroke-width="1.00" stroke-opacity="0.38"/><path d="M325.50 98.50V115.50" stroke="#56B4E9" stroke-width="1.00" stroke-opacity="0.27" fill="none"/><path d="M323.00 98.50H328.00M323.00 115.50H328.00" stroke="#56B4E9" stroke-width="1.00" stroke-opacity="0.38" fill="none"/><circle cx="325.50" cy="107.50" r="1.80" fill="none" stroke="#56B4E9" stroke-width="1.00" stroke-opacity="0.38"/><path d="M327.50 97.50V114.50" stroke="#56B4E9" stroke-width="1.00" stroke-opacity="0.27" fill="none"/><path d="M325.00 97.50H330.00M325.00 114.50H330.00" stroke="#56B4E9" stroke-width="1.00" stroke-opacity="0.38" fill="none"/><circle cx="327.50" cy="106.50" r="1.80" fill="none" stroke="#56B4E9" stroke-width="1.00" stroke-opacity="0.38"/><path d="M329.50 96.50V113.50" stroke="#56B4E9" stroke-width="1.00" stroke-opacity="0.27" fill="none"/><path d="M327.00 96.50H332.00M327.00 113.50H332.00" stroke="#56B4E9" stroke-width="1.00" stroke-opacity="0.38" fill="none"/><circle cx="329.50" cy="105.50" r="1.80" fill="none" stroke="#56B4E9" stroke-width="1.00" stroke-opacity="0.38"/><path d="M331.50 95.50V112.50" stroke="#56B4E9" stroke-width="1.00" stroke-opacity="0.27" fill="none"/><path d="M329.00 95.50H334.00M329.00 112.50H334.00" stroke="#56B4E9" stroke-width="1.00" stroke-opacity="0.38" fill="none"/><circle cx="331.50" cy="104.50" r="1.80" fill="none" stroke="#56B4E9" stroke-width="1.00" stroke-opacity="0.38"/><path d="M333.50 94.50V111.50" stroke="#56B4E9" stroke-width="1.00" stroke-opacity="0.27" fill="none"/><path d="M331.00 94.50H336.00M331.00 111.50H336.00" stroke="#56B4E9" stroke-width="1.00" stroke-opacity="0.38" fill="none"/><circle cx="333.50" cy="103.50" r="1.80" fill="none" stroke="#56B4E9" stroke-width="1.00" stroke-opacity="0.38"/><path d="M335.50 93.50V110.50" stroke="#56B4E9" stroke-width="1.00" stroke-opacity="0.27" fill="none"/><path d="M333.00 93.50H338.00M333.00 110.50H338.00" stroke="#56B4E9" stroke-width="1.00" stroke-opacity="0.38" fill="none"/><circle cx="335.50" cy="102.50" r="1.80" fill="none" stroke="#56B4E9" stroke-width="1.00" stroke-opacity="0.38"/><path d="M337.50 92.50V109.50" stroke="#56B4E9" stroke-width="1.00" stroke-opacity="0.27" fill="none"/><path d="M335.00 92.50H340.00M335.00 109.50H340.00" stroke="#56B4E9" stroke-width="1.00" stroke-opacity="0.38" fill="none"/><circle cx="337.50" cy="100.50" r="1.80" fill="none" stroke="#56B4E9" stroke-width="1.00" stroke-opacity="0.38"/><path d="M339.50 90.50V108.50" stroke="#56B4E9" stroke-width="1.00" stroke-opacity="0.27" fill="none"/><path d="M337.00 90.50H342.00M337.00 108.50H342.00" stroke="#56B4E9" stroke-width="1.00" stroke-opacity="0.38" fill="none"/><circle cx="339.50" cy="99.50" r="1.80" fill="none" stroke="#56B4E9" stroke-width="1.00" stroke-opacity="0.38"/><path d="M341.50 89.50V106.50" stroke="#56B4E9" stroke-width="1.00" stroke-opacity="0.27" fill="none"/><path d="M339.00 89.50H344.00M339.00 106.50H344.00" stroke="#56B4E9" stroke-width="1.00" stroke-opacity="0.38" fill="none"/><circle cx="341.50" cy="98.50" r="1.80" fill="none" stroke="#56B4E9" stroke-width="1.00" stroke-opacity="0.38"/><path d="M343.50 87.50V105.50" stroke="#56B4E9" stroke-width="1.00" stroke-opacity="0.27" fill="none"/><path d="M341.00 87.50H346.00M341.00 105.50H346.00" stroke="#56B4E9" stroke-width="1.00" stroke-opacity="0.38" fill="none"/><circle cx="343.50" cy="96.50" r="1.80" fill="none" stroke="#56B4E9" stroke-width="1.00" stroke-opacity="0.38"/><path d="M345.50 86.50V103.50" stroke="#56B4E9" stroke-width="1.00" stroke-opacity="0.27" fill="none"/><path d="M343.00 86.50H348.00M343.00 103.50H348.00" stroke="#56B4E9" stroke-width="1.00" stroke-opacity="0.38" fill="none"/><circle cx="345.50" cy="95.50" r="1.80" fill="none" stroke="#56B4E9" stroke-width="1.00" stroke-opacity="0.38"/><path d="M347.50 84.50V101.50" stroke="#56B4E9" stroke-width="1.00" stroke-opacity="0.27" fill="none"/><path d="M345.00 84.50H350.00M345.00 101.50H350.00" stroke="#56B4E9" stroke-width="1.00" stroke-opacity="0.38" fill="none"/><circle cx="347.50" cy="93.50" r="1.80" fill="none" stroke="#56B4E9" stroke-width="1.00" stroke-opacity="0.38"/><path d="M349.50 82.50V99.50" stroke="#56B4E9" stroke-width="1.00" stroke-opacity="0.27" fill="none"/><path d="M347.00 82.50H352.00M347.00 99.50H352.00" stroke="#56B4E9" stroke-width="1.00" stroke-opacity="0.38" fill="none"/><circle cx="349.50" cy="91.50" r="1.80" fill="none" stroke="#56B4E9" stroke-width="1.00" stroke-opacity="0.38"/><path d="M352.50 80.50V98.50" stroke="#56B4E9" stroke-width="1.00" stroke-opacity="0.27" fill="none"/><path d="M350.00 80.50H355.00M350.00 98.50H355.00" stroke="#56B4E9" stroke-width="1.00" stroke-opacity="0.38" fill="none"/><circle cx="352.50" cy="89.50" r="1.80" fill="none" stroke="#56B4E9" stroke-width="1.00" stroke-opacity="0.38"/><path d="M354.50 79.50V96.50" stroke="#56B4E9" stroke-width="1.00" stroke-opacity="0.27" fill="none"/><path d="M352.00 79.50H357.00M352.00 96.50H357.00" stroke="#56B4E9" stroke-width="1.00" stroke-opacity="0.38" fill="none"/><circle cx="354.50" cy="87.50" r="1.80" fill="none" stroke="#56B4E9" stroke-width="1.00" stroke-opacity="0.38"/><path d="M356.50 77.50V94.50" stroke="#56B4E9" stroke-width="1.00" stroke-opacity="0.27" fill="none"/><path d="M354.00 77.50H359.00M354.00 94.50H359.00" stroke="#56B4E9" stroke-width="1.00" stroke-opacity="0.38" fill="none"/><circle cx="356.50" cy="86.50" r="1.80" fill="none" stroke="#56B4E9" stroke-width="1.00" stroke-opacity="0.38"/><path d="M358.50 75.50V92.50" stroke="#56B4E9" stroke-width="1.00" stroke-opacity="0.27" fill="none"/><path d="M356.00 75.50H361.00M356.00 92.50H361.00" stroke="#56B4E9" stroke-width="1.00" stroke-opacity="0.38" fill="none"/><circle cx="358.50" cy="84.50" r="1.80" fill="none" stroke="#56B4E9" stroke-width="1.00" stroke-opacity="0.38"/><path d="M360.50 73.50V91.50" stroke="#56B4E9" stroke-width="1.00" stroke-opacity="0.27" fill="none"/><path d="M358.00 73.50H363.00M358.00 91.50H363.00" stroke="#56B4E9" stroke-width="1.00" stroke-opacity="0.38" fill="none"/><circle cx="360.50" cy="82.50" r="1.80" fill="none" stroke="#56B4E9" stroke-width="1.00" stroke-opacity="0.38"/><path d="M362.50 72.50V89.50" stroke="#56B4E9" stroke-width="1.00" stroke-opacity="0.27" fill="none"/><path d="M360.00 72.50H365.00M360.00 89.50H365.00" stroke="#56B4E9" stroke-width="1.00" stroke-opacity="0.38" fill="none"/><circle cx="362.50" cy="80.50" r="1.80" fill="none" stroke="#56B4E9" stroke-width="1.00" stroke-opacity="0.38"/><path d="M364.50 70.50V88.50" stroke="#56B4E9" stroke-width="1.00" stroke-opacity="0.27" fill="none"/><path d="M362.00 70.50H367.00M362.00 88.50H367.00" stroke="#56B4E9" stroke-width="1.00" stroke-opacity="0.38" fill="none"/><circle cx="364.50" cy="79.50" r="1.80" fill="none" stroke="#56B4E9" stroke-width="1.00" stroke-opacity="0.38"/><path d="M366.50 69.50V86.50" stroke="#56B4E9" stroke-width="1.00" stroke-opacity="0.27" fill="none"/><path d="M364.00 69.50H369.00M364.00 86.50H369.00" stroke="#56B4E9" stroke-width="1.00" stroke-opacity="0.38" fill="none"/><circle cx="366.50" cy="77.50" r="1.80" fill="none" stroke="#56B4E9" stroke-width="1.00" stroke-opacity="0.38"/><path d="M368.50 67.50V85.50" stroke="#56B4E9" stroke-width="1.00" stroke-opacity="0.27" fill="none"/><path d="M366.00 67.50H371.00M366.00 85.50H371.00" stroke="#56B4E9" stroke-width="1.00" stroke-opacity="0.38" fill="none"/><circle cx="368.50" cy="76.50" r="1.80" fill="none" stroke="#56B4E9" stroke-width="1.00" stroke-opacity="0.38"/><path d="M370.50 66.50V83.50" stroke="#56B4E9" stroke-width="1.00" stroke-opacity="0.27" fill="none"/><path d="M368.00 66.50H373.00M368.00 83.50H373.00" stroke="#56B4E9" stroke-width="1.00" stroke-opacity="0.38" fill="none"/><circle cx="370.50" cy="75.50" r="1.80" fill="none" stroke="#56B4E9" stroke-width="1.00" stroke-opacity="0.38"/><path d="M372.50 65.50V82.50" stroke="#56B4E9" stroke-width="1.00" stroke-opacity="0.27" fill="none"/><path d="M370.00 65.50H375.00M370.00 82.50H375.00" stroke="#56B4E9" stroke-width="1.00" stroke-opacity="0.38" fill="none"/><circle cx="372.50" cy="73.50" r="1.80" fill="none" stroke="#56B4E9" stroke-width="1.00" stroke-opacity="0.38"/><path d="M374.50 63.50V81.50" stroke="#56B4E9" stroke-width="1.00" stroke-opacity="0.27" fill="none"/><path d="M372.00 63.50H377.00M372.00 81.50H377.00" stroke="#56B4E9" stroke-width="1.00" stroke-opacity="0.38" fill="none"/><circle cx="374.50" cy="72.50" r="1.80" fill="none" stroke="#56B4E9" stroke-width="1.00" stroke-opacity="0.38"/><path d="M376.50 62.50V79.50" stroke="#56B4E9" stroke-width="1.00" stroke-opacity="0.27" fill="none"/><path d="M374.00 62.50H379.00M374.00 79.50H379.00" stroke="#56B4E9" stroke-width="1.00" stroke-opacity="0.38" fill="none"/><circle cx="376.50" cy="71.50" r="1.80" fill="none" stroke="#56B4E9" stroke-width="1.00" stroke-opacity="0.38"/><path d="M378.50 61.50V78.50" stroke="#56B4E9" stroke-width="1.00" stroke-opacity="0.27" fill="none"/><path d="M376.00 61.50H381.00M376.00 78.50H381.00" stroke="#56B4E9" stroke-width="1.00" stroke-opacity="0.38" fill="none"/><circle cx="378.50" cy="70.50" r="1.80" fill="none" stroke="#56B4E9" stroke-width="1.00" stroke-opacity="0.38"/><path d="M381.50 60.50V77.50" stroke="#56B4E9" stroke-width="1.00" stroke-opacity="0.27" fill="none"/><path d="M379.00 60.50H384.00M379.00 77.50H384.00" stroke="#56B4E9" stroke-width="1.00" stroke-opacity="0.38" fill="none"/><circle cx="381.50" cy="68.50" r="1.80" fill="none" stroke="#56B4E9" stroke-width="1.00" stroke-opacity="0.38"/><path d="M383.50 59.50V76.50" stroke="#56B4E9" stroke-width="1.00" stroke-opacity="0.27" fill="none"/><path d="M381.00 59.50H386.00M381.00 76.50H386.00" stroke="#56B4E9" stroke-width="1.00" stroke-opacity="0.38" fill="none"/><circle cx="383.50" cy="67.50" r="1.80" fill="none" stroke="#56B4E9" stroke-width="1.00" stroke-opacity="0.38"/><path d="M385.50 58.50V75.50" stroke="#56B4E9" stroke-width="1.00" stroke-opacity="0.27" fill="none"/><path d="M383.00 58.50H388.00M383.00 75.50H388.00" stroke="#56B4E9" stroke-width="1.00" stroke-opacity="0.38" fill="none"/><circle cx="385.50" cy="66.50" r="1.80" fill="none" stroke="#56B4E9" stroke-width="1.00" stroke-opacity="0.38"/><path d="M387.50 57.50V74.50" stroke="#56B4E9" stroke-width="1.00" stroke-opacity="0.27" fill="none"/><path d="M385.00 57.50H390.00M385.00 74.50H390.00" stroke="#56B4E9" stroke-width="1.00" stroke-opacity="0.38" fill="none"/><circle cx="387.50" cy="66.50" r="1.80" fill="none" stroke="#56B4E9" stroke-width="1.00" stroke-opacity="0.38"/><path d="M389.50 56.50V73.50" stroke="#56B4E9" stroke-width="1.00" stroke-opacity="0.27" fill="none"/><path d="M387.00 56.50H392.00M387.00 73.50H392.00" stroke="#56B4E9" stroke-width="1.00" stroke-opacity="0.38" fill="none"/><circle cx="389.50" cy="65.50" r="1.80" fill="none" stroke="#56B4E9" stroke-width="1.00" stroke-opacity="0.38"/><path d="M391.50 55.50V73.50" stroke="#56B4E9" stroke-width="1.00" stroke-opacity="0.27" fill="none"/><path d="M389.00 55.50H394.00M389.00 73.50H394.00" stroke="#56B4E9" stroke-width="1.00" stroke-opacity="0.38" fill="none"/><circle cx="391.50" cy="64.50" r="1.80" fill="none" stroke="#56B4E9" stroke-width="1.00" stroke-opacity="0.38"/><path d="M393.50 54.50V72.50" stroke="#56B4E9" stroke-width="1.00" stroke-opacity="0.27" fill="none"/><path d="M391.00 54.50H396.00M391.00 72.50H396.00" stroke="#56B4E9" stroke-width="1.00" stroke-opacity="0.38" fill="none"/><circle cx="393.50" cy="63.50" r="1.80" fill="none" stroke="#56B4E9" stroke-width="1.00" stroke-opacity="0.38"/><path d="M395.50 54.50V71.50" stroke="#56B4E9" stroke-width="1.00" stroke-opacity="0.27" fill="none"/><path d="M393.00 54.50H398.00M393.00 71.50H398.00" stroke="#56B4E9" stroke-width="1.00" stroke-opacity="0.38" fill="none"/><circle cx="395.50" cy="62.50" r="1.80" fill="none" stroke="#56B4E9" stroke-width="1.00" stroke-opacity="0.38"/><path d="M401.50 52.50V69.50" stroke="#56B4E9" stroke-width="1.00" stroke-opacity="0.27" fill="none"/><path d="M399.00 52.50H404.00M399.00 69.50H404.00" stroke="#56B4E9" stroke-width="1.00" stroke-opacity="0.38" fill="none"/><circle cx="401.50" cy="60.50" r="1.80" fill="none" stroke="#56B4E9" stroke-width="1.00" stroke-opacity="0.38"/><path d="M403.50 51.50V68.50" stroke="#56B4E9" stroke-width="1.00" stroke-opacity="0.27" fill="none"/><path d="M401.00 51.50H406.00M401.00 68.50H406.00" stroke="#56B4E9" stroke-width="1.00" stroke-opacity="0.38" fill="none"/><circle cx="403.50" cy="60.50" r="1.80" fill="none" stroke="#56B4E9" stroke-width="1.00" stroke-opacity="0.38"/><path d="M405.50 50.50V68.50" stroke="#56B4E9" stroke-width="1.00" stroke-opacity="0.27" fill="none"/><path d="M403.00 50.50H408.00M403.00 68.50H408.00" stroke="#56B4E9" stroke-width="1.00" stroke-opacity="0.38" fill="none"/><circle cx="405.50" cy="59.50" r="1.80" fill="none" stroke="#56B4E9" stroke-width="1.00" stroke-opacity="0.38"/><path d="M407.50 49.50V67.50" stroke="#56B4E9" stroke-width="1.00" stroke-opacity="0.27" fill="none"/><path d="M405.00 49.50H410.00M405.00 67.50H410.00" stroke="#56B4E9" stroke-width="1.00" stroke-opacity="0.38" fill="none"/><circle cx="407.50" cy="58.50" r="1.80" fill="none" stroke="#56B4E9" stroke-width="1.00" stroke-opacity="0.38"/><path d="M412.50 48.50V66.50" stroke="#56B4E9" stroke-width="1.00" stroke-opacity="0.27" fill="none"/><path d="M410.00 48.50H415.00M410.00 66.50H415.00" stroke="#56B4E9" stroke-width="1.00" stroke-opacity="0.38" fill="none"/><circle cx="412.50" cy="57.50" r="1.80" fill="none" stroke="#56B4E9" stroke-width="1.00" stroke-opacity="0.38"/><path d="M414.50 48.50V66.50" stroke="#56B4E9" stroke-width="1.00" stroke-opacity="0.27" fill="none"/><path d="M412.00 48.50H417.00M412.00 66.50H417.00" stroke="#56B4E9" stroke-width="1.00" stroke-opacity="0.38" fill="none"/><circle cx="414.50" cy="57.50" r="1.80" fill="none" stroke="#56B4E9" stroke-width="1.00" stroke-opacity="0.38"/><path d="M416.50 48.50V66.50" stroke="#56B4E9" stroke-width="1.00" stroke-opacity="0.27" fill="none"/><path d="M414.00 48.50H419.00M414.00 66.50H419.00" stroke="#56B4E9" stroke-width="1.00" stroke-opacity="0.38" fill="none"/><circle cx="416.50" cy="57.50" r="1.80" fill="none" stroke="#56B4E9" stroke-width="1.00" stroke-opacity="0.38"/><path d="M418.50 48.50V66.50" stroke="#56B4E9" stroke-width="1.00" stroke-opacity="0.27" fill="none"/><path d="M416.00 48.50H421.00M416.00 66.50H421.00" stroke="#56B4E9" stroke-width="1.00" stroke-opacity="0.38" fill="none"/><circle cx="418.50" cy="57.50" r="1.80" fill="none" stroke="#56B4E9" stroke-width="1.00" stroke-opacity="0.38"/><path d="M420.50 48.50V66.50" stroke="#56B4E9" stroke-width="1.00" stroke-opacity="0.27" fill="none"/><path d="M418.00 48.50H423.00M418.00 66.50H423.00" stroke="#56B4E9" stroke-width="1.00" stroke-opacity="0.38" fill="none"/><circle cx="420.50" cy="57.50" r="1.80" fill="none" stroke="#56B4E9" stroke-width="1.00" stroke-opacity="0.38"/><path d="M422.50 48.50V66.50" stroke="#56B4E9" stroke-width="1.00" stroke-opacity="0.27" fill="none"/><path d="M420.00 48.50H425.00M420.00 66.50H425.00" stroke="#56B4E9" stroke-width="1.00" stroke-opacity="0.38" fill="none"/><circle cx="422.50" cy="57.50" r="1.80" fill="none" stroke="#56B4E9" stroke-width="1.00" stroke-opacity="0.38"/><path d="M424.50 48.50V66.50" stroke="#56B4E9" stroke-width="1.00" stroke-opacity="0.27" fill="none"/><path d="M422.00 48.50H427.00M422.00 66.50H427.00" stroke="#56B4E9" stroke-width="1.00" stroke-opacity="0.38" fill="none"/><circle cx="424.50" cy="57.50" r="1.80" fill="none" stroke="#56B4E9" stroke-width="1.00" stroke-opacity="0.38"/><path d="M429.50 48.50V66.50" stroke="#56B4E9" stroke-width="1.00" stroke-opacity="0.27" fill="none"/><path d="M427.00 48.50H432.00M427.00 66.50H432.00" stroke="#56B4E9" stroke-width="1.00" stroke-opacity="0.38" fill="none"/><circle cx="429.50" cy="57.50" r="1.80" fill="none" stroke="#56B4E9" stroke-width="1.00" stroke-opacity="0.38"/><path d="M434.50 48.50V66.50" stroke="#56B4E9" stroke-width="1.00" stroke-opacity="0.27" fill="none"/><path d="M432.00 48.50H437.00M432.00 66.50H437.00" stroke="#56B4E9" stroke-width="1.00" stroke-opacity="0.38" fill="none"/><circle cx="434.50" cy="57.50" r="1.80" fill="none" stroke="#56B4E9" stroke-width="1.00" stroke-opacity="0.38"/><path d="M438.50 48.50V66.50" stroke="#56B4E9" stroke-width="1.00" stroke-opacity="0.27" fill="none"/><path d="M436.00 48.50H441.00M436.00 66.50H441.00" stroke="#56B4E9" stroke-width="1.00" stroke-opacity="0.38" fill="none"/><circle cx="438.50" cy="57.50" r="1.80" fill="none" stroke="#56B4E9" stroke-width="1.00" stroke-opacity="0.38"/><path d="M443.50 48.50V66.50" stroke="#56B4E9" stroke-width="1.00" stroke-opacity="0.27" fill="none"/><path d="M441.00 48.50H446.00M441.00 66.50H446.00" stroke="#56B4E9" stroke-width="1.00" stroke-opacity="0.38" fill="none"/><circle cx="443.50" cy="57.50" r="1.80" fill="none" stroke="#56B4E9" stroke-width="1.00" stroke-opacity="0.38"/><path d="M446.50 48.50V66.50" stroke="#56B4E9" stroke-width="1.00" stroke-opacity="0.27" fill="none"/><path d="M444.00 48.50H449.00M444.00 66.50H449.00" stroke="#56B4E9" stroke-width="1.00" stroke-opacity="0.38" fill="none"/><circle cx="446.50" cy="57.50" r="1.80" fill="none" stroke="#56B4E9" stroke-width="1.00" stroke-opacity="0.38"/><path d="M448.50 48.50V66.50" stroke="#56B4E9" stroke-width="1.00" stroke-opacity="0.27" fill="none"/><path d="M446.00 48.50H451.00M446.00 66.50H451.00" stroke="#56B4E9" stroke-width="1.00" stroke-opacity="0.38" fill="none"/><circle cx="448.50" cy="57.50" r="1.80" fill="none" stroke="#56B4E9" stroke-width="1.00" stroke-opacity="0.38"/><path d="M450.50 48.50V66.50" stroke="#56B4E9" stroke-width="1.00" stroke-opacity="0.27" fill="none"/><path d="M448.00 48.50H453.00M448.00 66.50H453.00" stroke="#56B4E9" stroke-width="1.00" stroke-opacity="0.38" fill="none"/><circle cx="450.50" cy="57.50" r="1.80" fill="none" stroke="#56B4E9" stroke-width="1.00" stroke-opacity="0.38"/><path d="M452.50 49.50V66.50" stroke="#56B4E9" stroke-width="1.00" stroke-opacity="0.27" fill="none"/><path d="M450.00 49.50H455.00M450.00 66.50H455.00" stroke="#56B4E9" stroke-width="1.00" stroke-opacity="0.38" fill="none"/><circle cx="452.50" cy="57.50" r="1.80" fill="none" stroke="#56B4E9" stroke-width="1.00" stroke-opacity="0.38"/><path d="M455.50 49.50V66.50" stroke="#56B4E9" stroke-width="1.00" stroke-opacity="0.27" fill="none"/><path d="M453.00 49.50H458.00M453.00 66.50H458.00" stroke="#56B4E9" stroke-width="1.00" stroke-opacity="0.38" fill="none"/><circle cx="455.50" cy="57.50" r="1.80" fill="none" stroke="#56B4E9" stroke-width="1.00" stroke-opacity="0.38"/><path d="M457.50 49.50V66.50" stroke="#56B4E9" stroke-width="1.00" stroke-opacity="0.27" fill="none"/><path d="M455.00 49.50H460.00M455.00 66.50H460.00" stroke="#56B4E9" stroke-width="1.00" stroke-opacity="0.38" fill="none"/><circle cx="457.50" cy="57.50" r="1.80" fill="none" stroke="#56B4E9" stroke-width="1.00" stroke-opacity="0.38"/><path d="M459.50 49.50V66.50" stroke="#56B4E9" stroke-width="1.00" stroke-opacity="0.27" fill="none"/><path d="M457.00 49.50H462.00M457.00 66.50H462.00" stroke="#56B4E9" stroke-width="1.00" stroke-opacity="0.38" fill="none"/><circle cx="459.50" cy="57.50" r="1.80" fill="none" stroke="#56B4E9" stroke-width="1.00" stroke-opacity="0.38"/><path d="M462.50 49.50V66.50" stroke="#56B4E9" stroke-width="1.00" stroke-opacity="0.27" fill="none"/><path d="M460.00 49.50H465.00M460.00 66.50H465.00" stroke="#56B4E9" stroke-width="1.00" stroke-opacity="0.38" fill="none"/><circle cx="462.50" cy="57.50" r="1.80" fill="none" stroke="#56B4E9" stroke-width="1.00" stroke-opacity="0.38"/><path d="M464.50 49.50V66.50" stroke="#56B4E9" stroke-width="1.00" stroke-opacity="0.27" fill="none"/><path d="M462.00 49.50H467.00M462.00 66.50H467.00" stroke="#56B4E9" stroke-width="1.00" stroke-opacity="0.38" fill="none"/><circle cx="464.50" cy="57.50" r="1.80" fill="none" stroke="#56B4E9" stroke-width="1.00" stroke-opacity="0.38"/><path d="M466.50 49.50V66.50" stroke="#56B4E9" stroke-width="1.00" stroke-opacity="0.27" fill="none"/><path d="M464.00 49.50H469.00M464.00 66.50H469.00" stroke="#56B4E9" stroke-width="1.00" stroke-opacity="0.38" fill="none"/><circle cx="466.50" cy="57.50" r="1.80" fill="none" stroke="#56B4E9" stroke-width="1.00" stroke-opacity="0.38"/><path d="M468.50 49.50V66.50" stroke="#56B4E9" stroke-width="1.00" stroke-opacity="0.27" fill="none"/><path d="M466.00 49.50H471.00M466.00 66.50H471.00" stroke="#56B4E9" stroke-width="1.00" stroke-opacity="0.38" fill="none"/><circle cx="468.50" cy="57.50" r="1.80" fill="none" stroke="#56B4E9" stroke-width="1.00" stroke-opacity="0.38"/><path d="M470.50 49.50V66.50" stroke="#56B4E9" stroke-width="1.00" stroke-opacity="0.27" fill="none"/><path d="M468.00 49.50H473.00M468.00 66.50H473.00" stroke="#56B4E9" stroke-width="1.00" stroke-opacity="0.38" fill="none"/><circle cx="470.50" cy="57.50" r="1.80" fill="none" stroke="#56B4E9" stroke-width="1.00" stroke-opacity="0.38"/><path d="M472.50 49.50V66.50" stroke="#56B4E9" stroke-width="1.00" stroke-opacity="0.27" fill="none"/><path d="M470.00 49.50H475.00M470.00 66.50H475.00" stroke="#56B4E9" stroke-width="1.00" stroke-opacity="0.38" fill="none"/><circle cx="472.50" cy="57.50" r="1.80" fill="none" stroke="#56B4E9" stroke-width="1.00" stroke-opacity="0.38"/><path d="M474.50 49.50V66.50" stroke="#56B4E9" stroke-width="1.00" stroke-opacity="0.27" fill="none"/><path d="M472.00 49.50H477.00M472.00 66.50H477.00" stroke="#56B4E9" stroke-width="1.00" stroke-opacity="0.38" fill="none"/><circle cx="474.50" cy="57.50" r="1.80" fill="none" stroke="#56B4E9" stroke-width="1.00" stroke-opacity="0.38"/><path d="M476.50 49.50V66.50" stroke="#56B4E9" stroke-width="1.00" stroke-opacity="0.27" fill="none"/><path d="M474.00 49.50H479.00M474.00 66.50H479.00" stroke="#56B4E9" stroke-width="1.00" stroke-opacity="0.38" fill="none"/><circle cx="476.50" cy="57.50" r="1.80" fill="none" stroke="#56B4E9" stroke-width="1.00" stroke-opacity="0.38"/><path d="M478.50 49.50V66.50" stroke="#56B4E9" stroke-width="1.00" stroke-opacity="0.27" fill="none"/><path d="M476.00 49.50H481.00M476.00 66.50H481.00" stroke="#56B4E9" stroke-width="1.00" stroke-opacity="0.38" fill="none"/><circle cx="478.50" cy="57.50" r="1.80" fill="none" stroke="#56B4E9" stroke-width="1.00" stroke-opacity="0.38"/><path d="M480.50 49.50V66.50" stroke="#56B4E9" stroke-width="1.00" stroke-opacity="0.27" fill="none"/><path d="M478.00 49.50H483.00M478.00 66.50H483.00" stroke="#56B4E9" stroke-width="1.00" stroke-opacity="0.38" fill="none"/><circle cx="480.50" cy="57.50" r="1.80" fill="none" stroke="#56B4E9" stroke-width="1.00" stroke-opacity="0.38"/><path d="M482.50 49.50V66.50" stroke="#56B4E9" stroke-width="1.00" stroke-opacity="0.27" fill="none"/><path d="M480.00 49.50H485.00M480.00 66.50H485.00" stroke="#56B4E9" stroke-width="1.00" stroke-opacity="0.38" fill="none"/><circle cx="482.50" cy="57.50" r="1.80" fill="none" stroke="#56B4E9" stroke-width="1.00" stroke-opacity="0.38"/><path d="M484.50 49.50V66.50" stroke="#56B4E9" stroke-width="1.00" stroke-opacity="0.27" fill="none"/><path d="M482.00 49.50H487.00M482.00 66.50H487.00" stroke="#56B4E9" stroke-width="1.00" stroke-opacity="0.38" fill="none"/><circle cx="484.50" cy="57.50" r="1.80" fill="none" stroke="#56B4E9" stroke-width="1.00" stroke-opacity="0.38"/><path d="M485.50 49.50V66.50" stroke="#56B4E9" stroke-width="1.00" stroke-opacity="0.27" fill="none"/><path d="M483.00 49.50H488.00M483.00 66.50H488.00" stroke="#56B4E9" stroke-width="1.00" stroke-opacity="0.38" fill="none"/><circle cx="485.50" cy="57.50" r="1.80" fill="none" stroke="#56B4E9" stroke-width="1.00" stroke-opacity="0.38"/><path d="M487.50 49.50V66.50" stroke="#56B4E9" stroke-width="1.00" stroke-opacity="0.27" fill="none"/><path d="M485.00 49.50H490.00M485.00 66.50H490.00" stroke="#56B4E9" stroke-width="1.00" stroke-opacity="0.38" fill="none"/><circle cx="487.50" cy="57.50" r="1.80" fill="none" stroke="#56B4E9" stroke-width="1.00" stroke-opacity="0.38"/><path d="M489.50 49.50V66.50" stroke="#56B4E9" stroke-width="1.00" stroke-opacity="0.27" fill="none"/><path d="M487.00 49.50H492.00M487.00 66.50H492.00" stroke="#56B4E9" stroke-width="1.00" stroke-opacity="0.38" fill="none"/><circle cx="489.50" cy="58.50" r="1.80" fill="none" stroke="#56B4E9" stroke-width="1.00" stroke-opacity="0.38"/><path d="M491.50 49.50V66.50" stroke="#56B4E9" stroke-width="1.00" stroke-opacity="0.27" fill="none"/><path d="M489.00 49.50H494.00M489.00 66.50H494.00" stroke="#56B4E9" stroke-width="1.00" stroke-opacity="0.38" fill="none"/><circle cx="491.50" cy="58.50" r="1.80" fill="none" stroke="#56B4E9" stroke-width="1.00" stroke-opacity="0.38"/><path d="M492.50 49.50V66.50" stroke="#56B4E9" stroke-width="1.00" stroke-opacity="0.27" fill="none"/><path d="M490.00 49.50H495.00M490.00 66.50H495.00" stroke="#56B4E9" stroke-width="1.00" stroke-opacity="0.38" fill="none"/><circle cx="492.50" cy="58.50" r="1.80" fill="none" stroke="#56B4E9" stroke-width="1.00" stroke-opacity="0.38"/><path d="M493.50 49.50V66.50" stroke="#56B4E9" stroke-width="1.00" stroke-opacity="0.27" fill="none"/><path d="M491.00 49.50H496.00M491.00 66.50H496.00" stroke="#56B4E9" stroke-width="1.00" stroke-opacity="0.38" fill="none"/><circle cx="493.50" cy="58.50" r="1.80" fill="none" stroke="#56B4E9" stroke-width="1.00" stroke-opacity="0.38"/><path d="M495.50 49.50V66.50" stroke="#56B4E9" stroke-width="1.00" stroke-opacity="0.27" fill="none"/><path d="M493.00 49.50H498.00M493.00 66.50H498.00" stroke="#56B4E9" stroke-width="1.00" stroke-opacity="0.38" fill="none"/><circle cx="495.50" cy="58.50" r="1.80" fill="none" stroke="#56B4E9" stroke-width="1.00" stroke-opacity="0.38"/><path d="M496.50 49.50V66.50" stroke="#56B4E9" stroke-width="1.00" stroke-opacity="0.27" fill="none"/><path d="M494.00 49.50H499.00M494.00 66.50H499.00" stroke="#56B4E9" stroke-width="1.00" stroke-opacity="0.38" fill="none"/><circle cx="496.50" cy="58.50" r="1.80" fill="none" stroke="#56B4E9" stroke-width="1.00" stroke-opacity="0.38"/><path d="M498.50 49.50V66.50" stroke="#56B4E9" stroke-width="1.00" stroke-opacity="0.27" fill="none"/><path d="M496.00 49.50H501.00M496.00 66.50H501.00" stroke="#56B4E9" stroke-width="1.00" stroke-opacity="0.38" fill="none"/><circle cx="498.50" cy="58.50" r="1.80" fill="none" stroke="#56B4E9" stroke-width="1.00" stroke-opacity="0.38"/><path d="M499.50 49.50V66.50" stroke="#56B4E9" stroke-width="1.00" stroke-opacity="0.27" fill="none"/><path d="M497.00 49.50H502.00M497.00 66.50H502.00" stroke="#56B4E9" stroke-width="1.00" stroke-opacity="0.38" fill="none"/><circle cx="499.50" cy="58.50" r="1.80" fill="none" stroke="#56B4E9" stroke-width="1.00" stroke-opacity="0.38"/><path d="M501.50 49.50V66.50" stroke="#56B4E9" stroke-width="1.00" stroke-opacity="0.27" fill="none"/><path d="M499.00 49.50H504.00M499.00 66.50H504.00" stroke="#56B4E9" stroke-width="1.00" stroke-opacity="0.38" fill="none"/><circle cx="501.50" cy="58.50" r="1.80" fill="none" stroke="#56B4E9" stroke-width="1.00" stroke-opacity="0.38"/><path d="M502.50 49.50V66.50" stroke="#56B4E9" stroke-width="1.00" stroke-opacity="0.27" fill="none"/><path d="M500.00 49.50H505.00M500.00 66.50H505.00" stroke="#56B4E9" stroke-width="1.00" stroke-opacity="0.38" fill="none"/><circle cx="502.50" cy="58.50" r="1.80" fill="none" stroke="#56B4E9" stroke-width="1.00" stroke-opacity="0.38"/><path d="M63.90 387.32V389.32M61.10 387.32H66.70M61.10 389.32H66.70" stroke="#9400D3" stroke-width="1.00" stroke-opacity="0.36" fill="none"/><circle cx="63.90" cy="388.32" r="2.00" fill="none" stroke="#9400D3" stroke-width="1.00" stroke-opacity="0.72"/><path d="M65.20 386.98V388.98M62.40 386.98H68.00M62.40 388.98H68.00" stroke="#9400D3" stroke-width="1.00" stroke-opacity="0.36" fill="none"/><circle cx="65.20" cy="387.98" r="2.00" fill="none" stroke="#9400D3" stroke-width="1.00" stroke-opacity="0.72"/><path d="M66.50 386.65V388.65M63.70 386.65H69.30M63.70 388.65H69.30" stroke="#9400D3" stroke-width="1.00" stroke-opacity="0.36" fill="none"/><circle cx="66.50" cy="387.65" r="2.00" fill="none" stroke="#9400D3" stroke-width="1.00" stroke-opacity="0.72"/><path d="M67.80 386.29V388.29M65.00 386.29H70.60M65.00 388.29H70.60" stroke="#9400D3" stroke-width="1.00" stroke-opacity="0.36" fill="none"/><circle cx="67.80" cy="387.29" r="2.00" fill="none" stroke="#9400D3" stroke-width="1.00" stroke-opacity="0.72"/><path d="M69.10 385.89V387.89M66.30 385.89H71.90M66.30 387.89H71.90" stroke="#9400D3" stroke-width="1.00" stroke-opacity="0.36" fill="none"/><circle cx="69.10" cy="386.89" r="2.00" fill="none" stroke="#9400D3" stroke-width="1.00" stroke-opacity="0.72"/><path d="M70.40 385.44V387.44M67.60 385.44H73.20M67.60 387.44H73.20" stroke="#9400D3" stroke-width="1.00" stroke-opacity="0.36" fill="none"/><circle cx="70.40" cy="386.44" r="2.00" fill="none" stroke="#9400D3" stroke-width="1.00" stroke-opacity="0.72"/><path d="M71.70 384.96V386.96M68.90 384.96H74.50M68.90 386.96H74.50" stroke="#9400D3" stroke-width="1.00" stroke-opacity="0.36" fill="none"/><circle cx="71.70" cy="385.96" r="2.00" fill="none" stroke="#9400D3" stroke-width="1.00" stroke-opacity="0.72"/><path d="M73.00 384.43V386.43M70.20 384.43H75.80M70.20 386.43H75.80" stroke="#9400D3" stroke-width="1.00" stroke-opacity="0.36" fill="none"/><circle cx="73.00" cy="385.43" r="2.00" fill="none" stroke="#9400D3" stroke-width="1.00" stroke-opacity="0.72"/><path d="M74.30 383.85V385.85M71.50 383.85H77.10M71.50 385.85H77.10" stroke="#9400D3" stroke-width="1.00" stroke-opacity="0.36" fill="none"/><circle cx="74.30" cy="384.85" r="2.00" fill="none" stroke="#9400D3" stroke-width="1.00" stroke-opacity="0.72"/><path d="M75.60 383.20V385.20M72.80 383.20H78.40M72.80 385.20H78.40" stroke="#9400D3" stroke-width="1.00" stroke-opacity="0.36" fill="none"/><circle cx="75.60" cy="384.20" r="2.00" fill="none" stroke="#9400D3" stroke-width="1.00" stroke-opacity="0.72"/><path d="M76.90 382.45V384.45M74.10 382.45H79.70M74.10 384.45H79.70" stroke="#9400D3" stroke-width="1.00" stroke-opacity="0.36" fill="none"/><circle cx="76.90" cy="383.45" r="2.00" fill="none" stroke="#9400D3" stroke-width="1.00" stroke-opacity="0.72"/><path d="M78.20 381.60V383.60M75.40 381.60H81.00M75.40 383.60H81.00" stroke="#9400D3" stroke-width="1.00" stroke-opacity="0.36" fill="none"/><circle cx="78.20" cy="382.60" r="2.00" fill="none" stroke="#9400D3" stroke-width="1.00" stroke-opacity="0.72"/><path d="M79.60 380.65V382.65M76.80 380.65H82.40M76.80 382.65H82.40" stroke="#9400D3" stroke-width="1.00" stroke-opacity="0.36" fill="none"/><circle cx="79.60" cy="381.65" r="2.00" fill="none" stroke="#9400D3" stroke-width="1.00" stroke-opacity="0.72"/><path d="M81.50 379.25V381.25M78.70 379.25H84.30M78.70 381.25H84.30" stroke="#9400D3" stroke-width="1.00" stroke-opacity="0.36" fill="none"/><circle cx="81.50" cy="380.25" r="2.00" fill="none" stroke="#9400D3" stroke-width="1.00" stroke-opacity="0.72"/><path d="M83.40 377.72V379.72M80.60 377.72H86.20M80.60 379.72H86.20" stroke="#9400D3" stroke-width="1.00" stroke-opacity="0.36" fill="none"/><circle cx="83.40" cy="378.72" r="2.00" fill="none" stroke="#9400D3" stroke-width="1.00" stroke-opacity="0.72"/><path d="M85.30 376.03V378.03M82.50 376.03H88.10M82.50 378.03H88.10" stroke="#9400D3" stroke-width="1.00" stroke-opacity="0.36" fill="none"/><circle cx="85.30" cy="377.03" r="2.00" fill="none" stroke="#9400D3" stroke-width="1.00" stroke-opacity="0.72"/><path d="M87.20 374.26V376.26M84.40 374.26H90.00M84.40 376.26H90.00" stroke="#9400D3" stroke-width="1.00" stroke-opacity="0.36" fill="none"/><circle cx="87.20" cy="375.26" r="2.00" fill="none" stroke="#9400D3" stroke-width="1.00" stroke-opacity="0.72"/><path d="M90.60 370.98V372.98M87.80 370.98H93.40M87.80 372.98H93.40" stroke="#9400D3" stroke-width="1.00" stroke-opacity="0.36" fill="none"/><circle cx="90.60" cy="371.98" r="2.00" fill="none" stroke="#9400D3" stroke-width="1.00" stroke-opacity="0.72"/><path d="M93.35 368.26V370.26M90.55 368.26H96.15M90.55 370.26H96.15" stroke="#9400D3" stroke-width="1.00" stroke-opacity="0.36" fill="none"/><circle cx="93.35" cy="369.26" r="2.00" fill="none" stroke="#9400D3" stroke-width="1.00" stroke-opacity="0.72"/><path d="M96.10 365.50V367.50M93.30 365.50H98.90M93.30 367.50H98.90" stroke="#9400D3" stroke-width="1.00" stroke-opacity="0.36" fill="none"/><circle cx="96.10" cy="366.50" r="2.00" fill="none" stroke="#9400D3" stroke-width="1.00" stroke-opacity="0.72"/><path d="M98.85 362.74V364.74M96.05 362.74H101.65M96.05 364.74H101.65" stroke="#9400D3" stroke-width="1.00" stroke-opacity="0.36" fill="none"/><circle cx="98.85" cy="363.74" r="2.00" fill="none" stroke="#9400D3" stroke-width="1.00" stroke-opacity="0.72"/><path d="M101.60 360.02V362.02M98.80 360.02H104.40M98.80 362.02H104.40" stroke="#9400D3" stroke-width="1.00" stroke-opacity="0.36" fill="none"/><circle cx="101.60" cy="361.02" r="2.00" fill="none" stroke="#9400D3" stroke-width="1.00" stroke-opacity="0.72"/><path d="M104.35 357.42V359.42M101.55 357.42H107.15M101.55 359.42H107.15" stroke="#9400D3" stroke-width="1.00" stroke-opacity="0.36" fill="none"/><circle cx="104.35" cy="358.42" r="2.00" fill="none" stroke="#9400D3" stroke-width="1.00" stroke-opacity="0.72"/><path d="M107.10 354.99V356.99M104.30 354.99H109.90M104.30 356.99H109.90" stroke="#9400D3" stroke-width="1.00" stroke-opacity="0.36" fill="none"/><circle cx="107.10" cy="355.99" r="2.00" fill="none" stroke="#9400D3" stroke-width="1.00" stroke-opacity="0.72"/><path d="M109.85 352.65V354.65M107.05 352.65H112.65M107.05 354.65H112.65" stroke="#9400D3" stroke-width="1.00" stroke-opacity="0.36" fill="none"/><circle cx="109.85" cy="353.65" r="2.00" fill="none" stroke="#9400D3" stroke-width="1.00" stroke-opacity="0.72"/><path d="M112.60 350.42V352.42M109.80 350.42H115.40M109.80 352.42H115.40" stroke="#9400D3" stroke-width="1.00" stroke-opacity="0.36" fill="none"/><circle cx="112.60" cy="351.42" r="2.00" fill="none" stroke="#9400D3" stroke-width="1.00" stroke-opacity="0.72"/><path d="M115.35 348.31V350.31M112.55 348.31H118.15M112.55 350.31H118.15" stroke="#9400D3" stroke-width="1.00" stroke-opacity="0.36" fill="none"/><circle cx="115.35" cy="349.31" r="2.00" fill="none" stroke="#9400D3" stroke-width="1.00" stroke-opacity="0.72"/><path d="M118.10 346.32V348.32M115.30 346.32H120.90M115.30 348.32H120.90" stroke="#9400D3" stroke-width="1.00" stroke-opacity="0.36" fill="none"/><circle cx="118.10" cy="347.32" r="2.00" fill="none" stroke="#9400D3" stroke-width="1.00" stroke-opacity="0.72"/><path d="M120.85 344.46V346.46M118.05 344.46H123.65M118.05 346.46H123.65" stroke="#9400D3" stroke-width="1.00" stroke-opacity="0.36" fill="none"/><circle cx="120.85" cy="345.46" r="2.00" fill="none" stroke="#9400D3" stroke-width="1.00" stroke-opacity="0.72"/><path d="M123.60 342.79V344.79M120.80 342.79H126.40M120.80 344.79H126.40" stroke="#9400D3" stroke-width="1.00" stroke-opacity="0.36" fill="none"/><circle cx="123.60" cy="343.79" r="2.00" fill="none" stroke="#9400D3" stroke-width="1.00" stroke-opacity="0.72"/><path d="M126.35 341.22V343.22M123.55 341.22H129.15M123.55 343.22H129.15" stroke="#9400D3" stroke-width="1.00" stroke-opacity="0.36" fill="none"/><circle cx="126.35" cy="342.22" r="2.00" fill="none" stroke="#9400D3" stroke-width="1.00" stroke-opacity="0.72"/><path d="M129.10 339.76V341.76M126.30 339.76H131.90M126.30 341.76H131.90" stroke="#9400D3" stroke-width="1.00" stroke-opacity="0.36" fill="none"/><circle cx="129.10" cy="340.76" r="2.00" fill="none" stroke="#9400D3" stroke-width="1.00" stroke-opacity="0.72"/><path d="M131.85 338.33V340.33M129.05 338.33H134.65M129.05 340.33H134.65" stroke="#9400D3" stroke-width="1.00" stroke-opacity="0.36" fill="none"/><circle cx="131.85" cy="339.33" r="2.00" fill="none" stroke="#9400D3" stroke-width="1.00" stroke-opacity="0.72"/><path d="M134.60 336.89V338.89M131.80 336.89H137.40M131.80 338.89H137.40" stroke="#9400D3" stroke-width="1.00" stroke-opacity="0.36" fill="none"/><circle cx="134.60" cy="337.89" r="2.00" fill="none" stroke="#9400D3" stroke-width="1.00" stroke-opacity="0.72"/><path d="M136.67 335.95V337.75M133.87 335.95H139.47M133.87 337.75H139.47" stroke="#009E73" stroke-width="1.00" stroke-opacity="0.43" fill="none"/><path d="M136.67 334.65L134.77 337.95L138.58 337.95Z" fill="none" stroke="#009E73" stroke-width="1.00" stroke-opacity="0.72"/><path d="M141.25 333.73V335.53M138.45 333.73H144.05M138.45 335.53H144.05" stroke="#009E73" stroke-width="1.00" stroke-opacity="0.43" fill="none"/><path d="M141.25 332.43L139.34 335.73L143.15 335.73Z" fill="none" stroke="#009E73" stroke-width="1.00" stroke-opacity="0.72"/><path d="M145.42 331.61V333.41M142.62 331.61H148.22M142.62 333.41H148.22" stroke="#009E73" stroke-width="1.00" stroke-opacity="0.43" fill="none"/><path d="M145.42 330.31L143.52 333.61L147.33 333.61Z" fill="none" stroke="#009E73" stroke-width="1.00" stroke-opacity="0.72"/><path d="M149.27 329.75V331.55M146.47 329.75H152.07M146.47 331.55H152.07" stroke="#009E73" stroke-width="1.00" stroke-opacity="0.43" fill="none"/><path d="M149.27 328.45L147.36 331.75L151.17 331.75Z" fill="none" stroke="#009E73" stroke-width="1.00" stroke-opacity="0.72"/><path d="M152.83 328.15V329.95M150.03 328.15H155.63M150.03 329.95H155.63" stroke="#009E73" stroke-width="1.00" stroke-opacity="0.43" fill="none"/><path d="M152.83 326.85L150.92 330.15L154.73 330.15Z" fill="none" stroke="#009E73" stroke-width="1.00" stroke-opacity="0.72"/><path d="M156.14 326.82V328.62M153.34 326.82H158.94M153.34 328.62H158.94" stroke="#009E73" stroke-width="1.00" stroke-opacity="0.43" fill="none"/><path d="M156.14 325.52L154.23 328.82L158.04 328.82Z" fill="none" stroke="#009E73" stroke-width="1.00" stroke-opacity="0.72"/><path d="M159.24 325.67V327.47M156.44 325.67H162.04M156.44 327.47H162.04" stroke="#009E73" stroke-width="1.00" stroke-opacity="0.43" fill="none"/><path d="M159.24 324.37L157.33 327.67L161.14 327.67Z" fill="none" stroke="#009E73" stroke-width="1.00" stroke-opacity="0.72"/><path d="M162.15 324.62V326.42M159.35 324.62H164.95M159.35 326.42H164.95" stroke="#009E73" stroke-width="1.00" stroke-opacity="0.43" fill="none"/><path d="M162.15 323.32L160.24 326.62L164.05 326.62Z" fill="none" stroke="#009E73" stroke-width="1.00" stroke-opacity="0.72"/><path d="M164.89 323.66V325.46M162.09 323.66H167.69M162.09 325.46H167.69" stroke="#009E73" stroke-width="1.00" stroke-opacity="0.43" fill="none"/><path d="M164.89 322.36L162.99 325.66L166.80 325.66Z" fill="none" stroke="#009E73" stroke-width="1.00" stroke-opacity="0.72"/><path d="M167.49 322.77V324.57M164.69 322.77H170.29M164.69 324.57H170.29" stroke="#009E73" stroke-width="1.00" stroke-opacity="0.43" fill="none"/><path d="M167.49 321.47L165.58 324.77L169.39 324.77Z" fill="none" stroke="#009E73" stroke-width="1.00" stroke-opacity="0.72"/><path d="M169.95 321.95V323.75M167.15 321.95H172.75M167.15 323.75H172.75" stroke="#009E73" stroke-width="1.00" stroke-opacity="0.43" fill="none"/><path d="M169.95 320.65L168.04 323.95L171.86 323.95Z" fill="none" stroke="#009E73" stroke-width="1.00" stroke-opacity="0.72"/><path d="M174.53 320.46V322.26M171.73 320.46H177.33M171.73 322.26H177.33" stroke="#009E73" stroke-width="1.00" stroke-opacity="0.43" fill="none"/><path d="M174.53 319.16L172.62 322.46L176.43 322.46Z" fill="none" stroke="#009E73" stroke-width="1.00" stroke-opacity="0.72"/><path d="M180.66 318.48V320.28M177.86 318.48H183.46M177.86 320.28H183.46" stroke="#009E73" stroke-width="1.00" stroke-opacity="0.43" fill="none"/><path d="M180.66 317.18L178.76 320.48L182.57 320.48Z" fill="none" stroke="#009E73" stroke-width="1.00" stroke-opacity="0.72"/><path d="M186.10 316.83V318.63M183.30 316.83H188.90M183.30 318.63H188.90" stroke="#009E73" stroke-width="1.00" stroke-opacity="0.43" fill="none"/><path d="M186.10 315.53L184.20 318.83L188.01 318.83Z" fill="none" stroke="#009E73" stroke-width="1.00" stroke-opacity="0.72"/><path d="M189.42 315.66V317.46M186.62 315.66H192.22M186.62 317.46H192.22" stroke="#009E73" stroke-width="1.00" stroke-opacity="0.43" fill="none"/><path d="M189.42 314.36L187.51 317.66L191.32 317.66Z" fill="none" stroke="#009E73" stroke-width="1.00" stroke-opacity="0.72"/><path d="M196.82 313.79V315.59M194.02 313.79H199.62M194.02 315.59H199.62" stroke="#009E73" stroke-width="1.00" stroke-opacity="0.43" fill="none"/><path d="M196.82 312.49L194.91 315.79L198.72 315.79Z" fill="none" stroke="#009E73" stroke-width="1.00" stroke-opacity="0.72"/><path d="M203.23 312.48V314.28M200.43 312.48H206.03M200.43 314.28H206.03" stroke="#009E73" stroke-width="1.00" stroke-opacity="0.43" fill="none"/><path d="M203.23 311.18L201.32 314.48L205.13 314.48Z" fill="none" stroke="#009E73" stroke-width="1.00" stroke-opacity="0.72"/><path d="M208.88 311.27V313.07M206.08 311.27H211.68M206.08 313.07H211.68" stroke="#009E73" stroke-width="1.00" stroke-opacity="0.43" fill="none"/><path d="M208.88 309.97L206.98 313.27L210.79 313.27Z" fill="none" stroke="#009E73" stroke-width="1.00" stroke-opacity="0.72"/><path d="M213.94 310.26V311.26M211.74 310.26H216.14M211.74 311.26H216.14" stroke="#009E73" stroke-width="1.00" stroke-opacity="0.43" fill="none"/><path d="M213.94 308.56L212.04 311.86L215.85 311.86Z" fill="none" stroke="#009E73" stroke-width="1.00" stroke-opacity="0.72"/><path d="M218.52 308.87V309.87M216.32 308.87H220.72M216.32 309.87H220.72" stroke="#009E73" stroke-width="1.00" stroke-opacity="0.43" fill="none"/><path d="M218.52 307.17L216.61 310.47L220.42 310.47Z" fill="none" stroke="#009E73" stroke-width="1.00" stroke-opacity="0.72"/><path d="M222.70 307.70V308.70M220.50 307.70H224.90M220.50 308.70H224.90" stroke="#009E73" stroke-width="1.00" stroke-opacity="0.43" fill="none"/><path d="M222.70 306.00L220.79 309.30L224.60 309.30Z" fill="none" stroke="#009E73" stroke-width="1.00" stroke-opacity="0.72"/><path d="M226.54 306.84V307.84M224.34 306.84H228.74M224.34 307.84H228.74" stroke="#009E73" stroke-width="1.00" stroke-opacity="0.43" fill="none"/><path d="M226.54 305.14L224.63 308.44L228.44 308.44Z" fill="none" stroke="#009E73" stroke-width="1.00" stroke-opacity="0.72"/><path d="M230.10 306.15V307.15M227.90 306.15H232.30M227.90 307.15H232.30" stroke="#009E73" stroke-width="1.00" stroke-opacity="0.43" fill="none"/><path d="M230.10 304.45L228.19 307.75L232.00 307.75Z" fill="none" stroke="#009E73" stroke-width="1.00" stroke-opacity="0.72"/><path d="M233.41 305.58V306.58M231.21 305.58H235.61M231.21 306.58H235.61" stroke="#009E73" stroke-width="1.00" stroke-opacity="0.43" fill="none"/><path d="M233.41 303.88L231.50 307.18L235.31 307.18Z" fill="none" stroke="#009E73" stroke-width="1.00" stroke-opacity="0.72"/><path d="M236.51 305.11V306.11M234.31 305.11H238.71M234.31 306.11H238.71" stroke="#009E73" stroke-width="1.00" stroke-opacity="0.43" fill="none"/><path d="M236.51 303.41L234.60 306.71L238.41 306.71Z" fill="none" stroke="#009E73" stroke-width="1.00" stroke-opacity="0.72"/><path d="M239.42 304.71V305.71M237.22 304.71H241.62M237.22 305.71H241.62" stroke="#009E73" stroke-width="1.00" stroke-opacity="0.43" fill="none"/><path d="M239.42 303.01L237.51 306.31L241.32 306.31Z" fill="none" stroke="#009E73" stroke-width="1.00" stroke-opacity="0.72"/><path d="M242.16 304.38V305.38M239.96 304.38H244.36M239.96 305.38H244.36" stroke="#009E73" stroke-width="1.00" stroke-opacity="0.43" fill="none"/><path d="M242.16 302.68L240.26 305.98L244.07 305.98Z" fill="none" stroke="#009E73" stroke-width="1.00" stroke-opacity="0.72"/><path d="M244.76 304.10V305.10M242.56 304.10H246.96M242.56 305.10H246.96" stroke="#009E73" stroke-width="1.00" stroke-opacity="0.43" fill="none"/><path d="M244.76 302.40L242.85 305.70L246.66 305.70Z" fill="none" stroke="#009E73" stroke-width="1.00" stroke-opacity="0.72"/><path d="M247.22 303.82V304.82M245.02 303.82H249.42M245.02 304.82H249.42" stroke="#009E73" stroke-width="1.00" stroke-opacity="0.43" fill="none"/><path d="M247.22 302.12L245.32 305.42L249.13 305.42Z" fill="none" stroke="#009E73" stroke-width="1.00" stroke-opacity="0.72"/><path d="M249.56 303.57V304.57M247.36 303.57H251.76M247.36 304.57H251.76" stroke="#009E73" stroke-width="1.00" stroke-opacity="0.43" fill="none"/><path d="M249.56 301.87L247.66 305.17L251.47 305.17Z" fill="none" stroke="#009E73" stroke-width="1.00" stroke-opacity="0.72"/><path d="M251.80 303.36V304.36M249.60 303.36H254.00M249.60 304.36H254.00" stroke="#009E73" stroke-width="1.00" stroke-opacity="0.43" fill="none"/><path d="M251.80 301.66L249.89 304.96L253.70 304.96Z" fill="none" stroke="#009E73" stroke-width="1.00" stroke-opacity="0.72"/><path d="M253.93 303.17V304.17M251.73 303.17H256.13M251.73 304.17H256.13" stroke="#009E73" stroke-width="1.00" stroke-opacity="0.43" fill="none"/><path d="M253.93 301.47L252.03 304.77L255.84 304.77Z" fill="none" stroke="#009E73" stroke-width="1.00" stroke-opacity="0.72"/><path d="M255.97 303.01V304.01M253.77 303.01H258.17M253.77 304.01H258.17" stroke="#009E73" stroke-width="1.00" stroke-opacity="0.43" fill="none"/><path d="M255.97 301.31L254.07 304.61L257.88 304.61Z" fill="none" stroke="#009E73" stroke-width="1.00" stroke-opacity="0.72"/><path d="M257.93 302.85V303.85M255.73 302.85H260.13M255.73 303.85H260.13" stroke="#009E73" stroke-width="1.00" stroke-opacity="0.43" fill="none"/><path d="M257.93 301.15L256.03 304.45L259.84 304.45Z" fill="none" stroke="#009E73" stroke-width="1.00" stroke-opacity="0.72"/><path d="M259.82 302.69V303.69M257.62 302.69H262.02M257.62 303.69H262.02" stroke="#009E73" stroke-width="1.00" stroke-opacity="0.43" fill="none"/><path d="M259.82 300.99L257.91 304.29L261.72 304.29Z" fill="none" stroke="#009E73" stroke-width="1.00" stroke-opacity="0.72"/><path d="M261.63 302.54V303.54M259.43 302.54H263.83M259.43 303.54H263.83" stroke="#009E73" stroke-width="1.00" stroke-opacity="0.43" fill="none"/><path d="M261.63 300.84L259.72 304.14L263.53 304.14Z" fill="none" stroke="#009E73" stroke-width="1.00" stroke-opacity="0.72"/><path d="M263.38 302.40V303.40M261.18 302.40H265.58M261.18 303.40H265.58" stroke="#009E73" stroke-width="1.00" stroke-opacity="0.43" fill="none"/><path d="M263.38 300.70L261.47 304.00L265.28 304.00Z" fill="none" stroke="#009E73" stroke-width="1.00" stroke-opacity="0.72"/><path d="M265.06 302.28V303.28M262.86 302.28H267.26M262.86 303.28H267.26" stroke="#009E73" stroke-width="1.00" stroke-opacity="0.43" fill="none"/><path d="M265.06 300.58L263.16 303.88L266.97 303.88Z" fill="none" stroke="#009E73" stroke-width="1.00" stroke-opacity="0.72"/><path d="M266.69 302.17V303.17M264.49 302.17H268.89M264.49 303.17H268.89" stroke="#009E73" stroke-width="1.00" stroke-opacity="0.43" fill="none"/><path d="M266.69 300.47L264.78 303.77L268.59 303.77Z" fill="none" stroke="#009E73" stroke-width="1.00" stroke-opacity="0.72"/><path d="M268.26 302.08V303.08M266.06 302.08H270.46M266.06 303.08H270.46" stroke="#009E73" stroke-width="1.00" stroke-opacity="0.43" fill="none"/><path d="M268.26 300.38L266.36 303.68L270.17 303.68Z" fill="none" stroke="#009E73" stroke-width="1.00" stroke-opacity="0.72"/><path d="M269.79 301.99V302.99M267.59 301.99H271.99M267.59 302.99H271.99" stroke="#009E73" stroke-width="1.00" stroke-opacity="0.43" fill="none"/><path d="M269.79 300.29L267.88 303.59L271.69 303.59Z" fill="none" stroke="#009E73" stroke-width="1.00" stroke-opacity="0.72"/><path d="M271.26 301.91V302.91M269.06 301.91H273.46M269.06 302.91H273.46" stroke="#009E73" stroke-width="1.00" stroke-opacity="0.43" fill="none"/><path d="M271.26 300.21L269.36 303.51L273.17 303.51Z" fill="none" stroke="#009E73" stroke-width="1.00" stroke-opacity="0.72"/><path d="M272.70 301.84V302.84M270.50 301.84H274.90M270.50 302.84H274.90" stroke="#009E73" stroke-width="1.00" stroke-opacity="0.43" fill="none"/><path d="M272.70 300.14L270.79 303.44L274.60 303.44Z" fill="none" stroke="#009E73" stroke-width="1.00" stroke-opacity="0.72"/><path d="M274.09 301.77V302.77M271.89 301.77H276.29M271.89 302.77H276.29" stroke="#009E73" stroke-width="1.00" stroke-opacity="0.43" fill="none"/><path d="M274.09 300.07L272.18 303.37L275.99 303.37Z" fill="none" stroke="#009E73" stroke-width="1.00" stroke-opacity="0.72"/><path d="M275.44 301.70V302.70M273.24 301.70H277.64M273.24 302.70H277.64" stroke="#009E73" stroke-width="1.00" stroke-opacity="0.43" fill="none"/><path d="M275.44 300.00L273.54 303.30L277.35 303.30Z" fill="none" stroke="#009E73" stroke-width="1.00" stroke-opacity="0.72"/><path d="M276.76 301.65V302.65M274.56 301.65H278.96M274.56 302.65H278.96" stroke="#009E73" stroke-width="1.00" stroke-opacity="0.43" fill="none"/><path d="M276.76 299.95L274.85 303.25L278.66 303.25Z" fill="none" stroke="#009E73" stroke-width="1.00" stroke-opacity="0.72"/><path d="M278.04 301.60V302.60M275.84 301.60H280.24M275.84 302.60H280.24" stroke="#009E73" stroke-width="1.00" stroke-opacity="0.43" fill="none"/><path d="M278.04 299.90L276.13 303.20L279.94 303.20Z" fill="none" stroke="#009E73" stroke-width="1.00" stroke-opacity="0.72"/><path d="M279.28 301.55V302.55M277.08 301.55H281.48M277.08 302.55H281.48" stroke="#009E73" stroke-width="1.00" stroke-opacity="0.43" fill="none"/><path d="M279.28 299.85L277.38 303.15L281.19 303.15Z" fill="none" stroke="#009E73" stroke-width="1.00" stroke-opacity="0.72"/><path d="M280.50 301.51V302.51M278.30 301.51H282.70M278.30 302.51H282.70" stroke="#009E73" stroke-width="1.00" stroke-opacity="0.43" fill="none"/><path d="M280.50 299.81L278.59 303.11L282.41 303.11Z" fill="none" stroke="#009E73" stroke-width="1.00" stroke-opacity="0.72"/><path d="M279.50 297.50V306.50" stroke="#56B4E9" stroke-width="1.00" stroke-opacity="0.27" fill="none"/><path d="M277.00 297.50H282.00M277.00 306.50H282.00" stroke="#56B4E9" stroke-width="1.00" stroke-opacity="0.38" fill="none"/><circle cx="279.50" cy="302.50" r="1.80" fill="none" stroke="#56B4E9" stroke-width="1.00" stroke-opacity="0.38"/><path d="M281.50 297.50V306.50" stroke="#56B4E9" stroke-width="1.00" stroke-opacity="0.27" fill="none"/><path d="M279.00 297.50H284.00M279.00 306.50H284.00" stroke="#56B4E9" stroke-width="1.00" stroke-opacity="0.38" fill="none"/><circle cx="281.50" cy="301.50" r="1.80" fill="none" stroke="#56B4E9" stroke-width="1.00" stroke-opacity="0.38"/><path d="M283.50 297.50V306.50" stroke="#56B4E9" stroke-width="1.00" stroke-opacity="0.27" fill="none"/><path d="M281.00 297.50H286.00M281.00 306.50H286.00" stroke="#56B4E9" stroke-width="1.00" stroke-opacity="0.38" fill="none"/><circle cx="283.50" cy="301.50" r="1.80" fill="none" stroke="#56B4E9" stroke-width="1.00" stroke-opacity="0.38"/><path d="M285.50 297.50V306.50" stroke="#56B4E9" stroke-width="1.00" stroke-opacity="0.27" fill="none"/><path d="M283.00 297.50H288.00M283.00 306.50H288.00" stroke="#56B4E9" stroke-width="1.00" stroke-opacity="0.38" fill="none"/><circle cx="285.50" cy="301.50" r="1.80" fill="none" stroke="#56B4E9" stroke-width="1.00" stroke-opacity="0.38"/><path d="M287.50 297.50V306.50" stroke="#56B4E9" stroke-width="1.00" stroke-opacity="0.27" fill="none"/><path d="M285.00 297.50H290.00M285.00 306.50H290.00" stroke="#56B4E9" stroke-width="1.00" stroke-opacity="0.38" fill="none"/><circle cx="287.50" cy="301.50" r="1.80" fill="none" stroke="#56B4E9" stroke-width="1.00" stroke-opacity="0.38"/><path d="M289.50 297.50V306.50" stroke="#56B4E9" stroke-width="1.00" stroke-opacity="0.27" fill="none"/><path d="M287.00 297.50H292.00M287.00 306.50H292.00" stroke="#56B4E9" stroke-width="1.00" stroke-opacity="0.38" fill="none"/><circle cx="289.50" cy="301.50" r="1.80" fill="none" stroke="#56B4E9" stroke-width="1.00" stroke-opacity="0.38"/><path d="M292.50 297.50V306.50" stroke="#56B4E9" stroke-width="1.00" stroke-opacity="0.27" fill="none"/><path d="M290.00 297.50H295.00M290.00 306.50H295.00" stroke="#56B4E9" stroke-width="1.00" stroke-opacity="0.38" fill="none"/><circle cx="292.50" cy="301.50" r="1.80" fill="none" stroke="#56B4E9" stroke-width="1.00" stroke-opacity="0.38"/><path d="M294.50 297.50V306.50" stroke="#56B4E9" stroke-width="1.00" stroke-opacity="0.27" fill="none"/><path d="M292.00 297.50H297.00M292.00 306.50H297.00" stroke="#56B4E9" stroke-width="1.00" stroke-opacity="0.38" fill="none"/><circle cx="294.50" cy="301.50" r="1.80" fill="none" stroke="#56B4E9" stroke-width="1.00" stroke-opacity="0.38"/><path d="M296.50 297.50V306.50" stroke="#56B4E9" stroke-width="1.00" stroke-opacity="0.27" fill="none"/><path d="M294.00 297.50H299.00M294.00 306.50H299.00" stroke="#56B4E9" stroke-width="1.00" stroke-opacity="0.38" fill="none"/><circle cx="296.50" cy="301.50" r="1.80" fill="none" stroke="#56B4E9" stroke-width="1.00" stroke-opacity="0.38"/><path d="M298.50 297.50V306.50" stroke="#56B4E9" stroke-width="1.00" stroke-opacity="0.27" fill="none"/><path d="M296.00 297.50H301.00M296.00 306.50H301.00" stroke="#56B4E9" stroke-width="1.00" stroke-opacity="0.38" fill="none"/><circle cx="298.50" cy="301.50" r="1.80" fill="none" stroke="#56B4E9" stroke-width="1.00" stroke-opacity="0.38"/><path d="M300.50 297.50V306.50" stroke="#56B4E9" stroke-width="1.00" stroke-opacity="0.27" fill="none"/><path d="M298.00 297.50H303.00M298.00 306.50H303.00" stroke="#56B4E9" stroke-width="1.00" stroke-opacity="0.38" fill="none"/><circle cx="300.50" cy="301.50" r="1.80" fill="none" stroke="#56B4E9" stroke-width="1.00" stroke-opacity="0.38"/><path d="M302.50 297.50V306.50" stroke="#56B4E9" stroke-width="1.00" stroke-opacity="0.27" fill="none"/><path d="M300.00 297.50H305.00M300.00 306.50H305.00" stroke="#56B4E9" stroke-width="1.00" stroke-opacity="0.38" fill="none"/><circle cx="302.50" cy="301.50" r="1.80" fill="none" stroke="#56B4E9" stroke-width="1.00" stroke-opacity="0.38"/><path d="M304.50 297.50V306.50" stroke="#56B4E9" stroke-width="1.00" stroke-opacity="0.27" fill="none"/><path d="M302.00 297.50H307.00M302.00 306.50H307.00" stroke="#56B4E9" stroke-width="1.00" stroke-opacity="0.38" fill="none"/><circle cx="304.50" cy="301.50" r="1.80" fill="none" stroke="#56B4E9" stroke-width="1.00" stroke-opacity="0.38"/><path d="M306.50 296.50V306.50" stroke="#56B4E9" stroke-width="1.00" stroke-opacity="0.27" fill="none"/><path d="M304.00 296.50H309.00M304.00 306.50H309.00" stroke="#56B4E9" stroke-width="1.00" stroke-opacity="0.38" fill="none"/><circle cx="306.50" cy="301.50" r="1.80" fill="none" stroke="#56B4E9" stroke-width="1.00" stroke-opacity="0.38"/><path d="M308.50 296.50V306.50" stroke="#56B4E9" stroke-width="1.00" stroke-opacity="0.27" fill="none"/><path d="M306.00 296.50H311.00M306.00 306.50H311.00" stroke="#56B4E9" stroke-width="1.00" stroke-opacity="0.38" fill="none"/><circle cx="308.50" cy="301.50" r="1.80" fill="none" stroke="#56B4E9" stroke-width="1.00" stroke-opacity="0.38"/><path d="M310.50 296.50V306.50" stroke="#56B4E9" stroke-width="1.00" stroke-opacity="0.27" fill="none"/><path d="M308.00 296.50H313.00M308.00 306.50H313.00" stroke="#56B4E9" stroke-width="1.00" stroke-opacity="0.38" fill="none"/><circle cx="310.50" cy="301.50" r="1.80" fill="none" stroke="#56B4E9" stroke-width="1.00" stroke-opacity="0.38"/><path d="M312.50 296.50V306.50" stroke="#56B4E9" stroke-width="1.00" stroke-opacity="0.27" fill="none"/><path d="M310.00 296.50H315.00M310.00 306.50H315.00" stroke="#56B4E9" stroke-width="1.00" stroke-opacity="0.38" fill="none"/><circle cx="312.50" cy="301.50" r="1.80" fill="none" stroke="#56B4E9" stroke-width="1.00" stroke-opacity="0.38"/><path d="M314.50 296.50V306.50" stroke="#56B4E9" stroke-width="1.00" stroke-opacity="0.27" fill="none"/><path d="M312.00 296.50H317.00M312.00 306.50H317.00" stroke="#56B4E9" stroke-width="1.00" stroke-opacity="0.38" fill="none"/><circle cx="314.50" cy="301.50" r="1.80" fill="none" stroke="#56B4E9" stroke-width="1.00" stroke-opacity="0.38"/><path d="M316.50 296.50V306.50" stroke="#56B4E9" stroke-width="1.00" stroke-opacity="0.27" fill="none"/><path d="M314.00 296.50H319.00M314.00 306.50H319.00" stroke="#56B4E9" stroke-width="1.00" stroke-opacity="0.38" fill="none"/><circle cx="316.50" cy="301.50" r="1.80" fill="none" stroke="#56B4E9" stroke-width="1.00" stroke-opacity="0.38"/><path d="M318.50 296.50V306.50" stroke="#56B4E9" stroke-width="1.00" stroke-opacity="0.27" fill="none"/><path d="M316.00 296.50H321.00M316.00 306.50H321.00" stroke="#56B4E9" stroke-width="1.00" stroke-opacity="0.38" fill="none"/><circle cx="318.50" cy="301.50" r="1.80" fill="none" stroke="#56B4E9" stroke-width="1.00" stroke-opacity="0.38"/><path d="M320.50 296.50V306.50" stroke="#56B4E9" stroke-width="1.00" stroke-opacity="0.27" fill="none"/><path d="M318.00 296.50H323.00M318.00 306.50H323.00" stroke="#56B4E9" stroke-width="1.00" stroke-opacity="0.38" fill="none"/><circle cx="320.50" cy="301.50" r="1.80" fill="none" stroke="#56B4E9" stroke-width="1.00" stroke-opacity="0.38"/><path d="M323.50 295.50V305.50" stroke="#56B4E9" stroke-width="1.00" stroke-opacity="0.27" fill="none"/><path d="M321.00 295.50H326.00M321.00 305.50H326.00" stroke="#56B4E9" stroke-width="1.00" stroke-opacity="0.38" fill="none"/><circle cx="323.50" cy="300.50" r="1.80" fill="none" stroke="#56B4E9" stroke-width="1.00" stroke-opacity="0.38"/><path d="M325.50 295.50V305.50" stroke="#56B4E9" stroke-width="1.00" stroke-opacity="0.27" fill="none"/><path d="M323.00 295.50H328.00M323.00 305.50H328.00" stroke="#56B4E9" stroke-width="1.00" stroke-opacity="0.38" fill="none"/><circle cx="325.50" cy="300.50" r="1.80" fill="none" stroke="#56B4E9" stroke-width="1.00" stroke-opacity="0.38"/><path d="M327.50 295.50V305.50" stroke="#56B4E9" stroke-width="1.00" stroke-opacity="0.27" fill="none"/><path d="M325.00 295.50H330.00M325.00 305.50H330.00" stroke="#56B4E9" stroke-width="1.00" stroke-opacity="0.38" fill="none"/><circle cx="327.50" cy="300.50" r="1.80" fill="none" stroke="#56B4E9" stroke-width="1.00" stroke-opacity="0.38"/><path d="M329.50 294.50V304.50" stroke="#56B4E9" stroke-width="1.00" stroke-opacity="0.27" fill="none"/><path d="M327.00 294.50H332.00M327.00 304.50H332.00" stroke="#56B4E9" stroke-width="1.00" stroke-opacity="0.38" fill="none"/><circle cx="329.50" cy="299.50" r="1.80" fill="none" stroke="#56B4E9" stroke-width="1.00" stroke-opacity="0.38"/><path d="M331.50 294.50V304.50" stroke="#56B4E9" stroke-width="1.00" stroke-opacity="0.27" fill="none"/><path d="M329.00 294.50H334.00M329.00 304.50H334.00" stroke="#56B4E9" stroke-width="1.00" stroke-opacity="0.38" fill="none"/><circle cx="331.50" cy="299.50" r="1.80" fill="none" stroke="#56B4E9" stroke-width="1.00" stroke-opacity="0.38"/><path d="M333.50 293.50V304.50" stroke="#56B4E9" stroke-width="1.00" stroke-opacity="0.27" fill="none"/><path d="M331.00 293.50H336.00M331.00 304.50H336.00" stroke="#56B4E9" stroke-width="1.00" stroke-opacity="0.38" fill="none"/><circle cx="333.50" cy="299.50" r="1.80" fill="none" stroke="#56B4E9" stroke-width="1.00" stroke-opacity="0.38"/><path d="M335.50 293.50V303.50" stroke="#56B4E9" stroke-width="1.00" stroke-opacity="0.27" fill="none"/><path d="M333.00 293.50H338.00M333.00 303.50H338.00" stroke="#56B4E9" stroke-width="1.00" stroke-opacity="0.38" fill="none"/><circle cx="335.50" cy="298.50" r="1.80" fill="none" stroke="#56B4E9" stroke-width="1.00" stroke-opacity="0.38"/><path d="M337.50 293.50V303.50" stroke="#56B4E9" stroke-width="1.00" stroke-opacity="0.27" fill="none"/><path d="M335.00 293.50H340.00M335.00 303.50H340.00" stroke="#56B4E9" stroke-width="1.00" stroke-opacity="0.38" fill="none"/><circle cx="337.50" cy="298.50" r="1.80" fill="none" stroke="#56B4E9" stroke-width="1.00" stroke-opacity="0.38"/><path d="M339.50 292.50V302.50" stroke="#56B4E9" stroke-width="1.00" stroke-opacity="0.27" fill="none"/><path d="M337.00 292.50H342.00M337.00 302.50H342.00" stroke="#56B4E9" stroke-width="1.00" stroke-opacity="0.38" fill="none"/><circle cx="339.50" cy="297.50" r="1.80" fill="none" stroke="#56B4E9" stroke-width="1.00" stroke-opacity="0.38"/><path d="M341.50 292.50V302.50" stroke="#56B4E9" stroke-width="1.00" stroke-opacity="0.27" fill="none"/><path d="M339.00 292.50H344.00M339.00 302.50H344.00" stroke="#56B4E9" stroke-width="1.00" stroke-opacity="0.38" fill="none"/><circle cx="341.50" cy="297.50" r="1.80" fill="none" stroke="#56B4E9" stroke-width="1.00" stroke-opacity="0.38"/><path d="M343.50 291.50V301.50" stroke="#56B4E9" stroke-width="1.00" stroke-opacity="0.27" fill="none"/><path d="M341.00 291.50H346.00M341.00 301.50H346.00" stroke="#56B4E9" stroke-width="1.00" stroke-opacity="0.38" fill="none"/><circle cx="343.50" cy="296.50" r="1.80" fill="none" stroke="#56B4E9" stroke-width="1.00" stroke-opacity="0.38"/><path d="M345.50 290.50V301.50" stroke="#56B4E9" stroke-width="1.00" stroke-opacity="0.27" fill="none"/><path d="M343.00 290.50H348.00M343.00 301.50H348.00" stroke="#56B4E9" stroke-width="1.00" stroke-opacity="0.38" fill="none"/><circle cx="345.50" cy="295.50" r="1.80" fill="none" stroke="#56B4E9" stroke-width="1.00" stroke-opacity="0.38"/><path d="M347.50 290.50V300.50" stroke="#56B4E9" stroke-width="1.00" stroke-opacity="0.27" fill="none"/><path d="M345.00 290.50H350.00M345.00 300.50H350.00" stroke="#56B4E9" stroke-width="1.00" stroke-opacity="0.38" fill="none"/><circle cx="347.50" cy="295.50" r="1.80" fill="none" stroke="#56B4E9" stroke-width="1.00" stroke-opacity="0.38"/><path d="M349.50 289.50V299.50" stroke="#56B4E9" stroke-width="1.00" stroke-opacity="0.27" fill="none"/><path d="M347.00 289.50H352.00M347.00 299.50H352.00" stroke="#56B4E9" stroke-width="1.00" stroke-opacity="0.38" fill="none"/><circle cx="349.50" cy="294.50" r="1.80" fill="none" stroke="#56B4E9" stroke-width="1.00" stroke-opacity="0.38"/><path d="M352.50 289.50V299.50" stroke="#56B4E9" stroke-width="1.00" stroke-opacity="0.27" fill="none"/><path d="M350.00 289.50H355.00M350.00 299.50H355.00" stroke="#56B4E9" stroke-width="1.00" stroke-opacity="0.38" fill="none"/><circle cx="352.50" cy="294.50" r="1.80" fill="none" stroke="#56B4E9" stroke-width="1.00" stroke-opacity="0.38"/><path d="M354.50 288.50V298.50" stroke="#56B4E9" stroke-width="1.00" stroke-opacity="0.27" fill="none"/><path d="M352.00 288.50H357.00M352.00 298.50H357.00" stroke="#56B4E9" stroke-width="1.00" stroke-opacity="0.38" fill="none"/><circle cx="354.50" cy="293.50" r="1.80" fill="none" stroke="#56B4E9" stroke-width="1.00" stroke-opacity="0.38"/><path d="M356.50 287.50V297.50" stroke="#56B4E9" stroke-width="1.00" stroke-opacity="0.27" fill="none"/><path d="M354.00 287.50H359.00M354.00 297.50H359.00" stroke="#56B4E9" stroke-width="1.00" stroke-opacity="0.38" fill="none"/><circle cx="356.50" cy="292.50" r="1.80" fill="none" stroke="#56B4E9" stroke-width="1.00" stroke-opacity="0.38"/><path d="M358.50 287.50V297.50" stroke="#56B4E9" stroke-width="1.00" stroke-opacity="0.27" fill="none"/><path d="M356.00 287.50H361.00M356.00 297.50H361.00" stroke="#56B4E9" stroke-width="1.00" stroke-opacity="0.38" fill="none"/><circle cx="358.50" cy="292.50" r="1.80" fill="none" stroke="#56B4E9" stroke-width="1.00" stroke-opacity="0.38"/><path d="M360.50 286.50V296.50" stroke="#56B4E9" stroke-width="1.00" stroke-opacity="0.27" fill="none"/><path d="M358.00 286.50H363.00M358.00 296.50H363.00" stroke="#56B4E9" stroke-width="1.00" stroke-opacity="0.38" fill="none"/><circle cx="360.50" cy="291.50" r="1.80" fill="none" stroke="#56B4E9" stroke-width="1.00" stroke-opacity="0.38"/><path d="M362.50 286.50V296.50" stroke="#56B4E9" stroke-width="1.00" stroke-opacity="0.27" fill="none"/><path d="M360.00 286.50H365.00M360.00 296.50H365.00" stroke="#56B4E9" stroke-width="1.00" stroke-opacity="0.38" fill="none"/><circle cx="362.50" cy="291.50" r="1.80" fill="none" stroke="#56B4E9" stroke-width="1.00" stroke-opacity="0.38"/><path d="M364.50 285.50V295.50" stroke="#56B4E9" stroke-width="1.00" stroke-opacity="0.27" fill="none"/><path d="M362.00 285.50H367.00M362.00 295.50H367.00" stroke="#56B4E9" stroke-width="1.00" stroke-opacity="0.38" fill="none"/><circle cx="364.50" cy="290.50" r="1.80" fill="none" stroke="#56B4E9" stroke-width="1.00" stroke-opacity="0.38"/><path d="M366.50 284.50V295.50" stroke="#56B4E9" stroke-width="1.00" stroke-opacity="0.27" fill="none"/><path d="M364.00 284.50H369.00M364.00 295.50H369.00" stroke="#56B4E9" stroke-width="1.00" stroke-opacity="0.38" fill="none"/><circle cx="366.50" cy="290.50" r="1.80" fill="none" stroke="#56B4E9" stroke-width="1.00" stroke-opacity="0.38"/><path d="M368.50 284.50V294.50" stroke="#56B4E9" stroke-width="1.00" stroke-opacity="0.27" fill="none"/><path d="M366.00 284.50H371.00M366.00 294.50H371.00" stroke="#56B4E9" stroke-width="1.00" stroke-opacity="0.38" fill="none"/><circle cx="368.50" cy="289.50" r="1.80" fill="none" stroke="#56B4E9" stroke-width="1.00" stroke-opacity="0.38"/><path d="M370.50 283.50V294.50" stroke="#56B4E9" stroke-width="1.00" stroke-opacity="0.27" fill="none"/><path d="M368.00 283.50H373.00M368.00 294.50H373.00" stroke="#56B4E9" stroke-width="1.00" stroke-opacity="0.38" fill="none"/><circle cx="370.50" cy="289.50" r="1.80" fill="none" stroke="#56B4E9" stroke-width="1.00" stroke-opacity="0.38"/><path d="M372.50 283.50V293.50" stroke="#56B4E9" stroke-width="1.00" stroke-opacity="0.27" fill="none"/><path d="M370.00 283.50H375.00M370.00 293.50H375.00" stroke="#56B4E9" stroke-width="1.00" stroke-opacity="0.38" fill="none"/><circle cx="372.50" cy="288.50" r="1.80" fill="none" stroke="#56B4E9" stroke-width="1.00" stroke-opacity="0.38"/><path d="M374.50 283.50V293.50" stroke="#56B4E9" stroke-width="1.00" stroke-opacity="0.27" fill="none"/><path d="M372.00 283.50H377.00M372.00 293.50H377.00" stroke="#56B4E9" stroke-width="1.00" stroke-opacity="0.38" fill="none"/><circle cx="374.50" cy="288.50" r="1.80" fill="none" stroke="#56B4E9" stroke-width="1.00" stroke-opacity="0.38"/><path d="M376.50 282.50V292.50" stroke="#56B4E9" stroke-width="1.00" stroke-opacity="0.27" fill="none"/><path d="M374.00 282.50H379.00M374.00 292.50H379.00" stroke="#56B4E9" stroke-width="1.00" stroke-opacity="0.38" fill="none"/><circle cx="376.50" cy="287.50" r="1.80" fill="none" stroke="#56B4E9" stroke-width="1.00" stroke-opacity="0.38"/><path d="M378.50 282.50V292.50" stroke="#56B4E9" stroke-width="1.00" stroke-opacity="0.27" fill="none"/><path d="M376.00 282.50H381.00M376.00 292.50H381.00" stroke="#56B4E9" stroke-width="1.00" stroke-opacity="0.38" fill="none"/><circle cx="378.50" cy="287.50" r="1.80" fill="none" stroke="#56B4E9" stroke-width="1.00" stroke-opacity="0.38"/><path d="M381.50 281.50V291.50" stroke="#56B4E9" stroke-width="1.00" stroke-opacity="0.27" fill="none"/><path d="M379.00 281.50H384.00M379.00 291.50H384.00" stroke="#56B4E9" stroke-width="1.00" stroke-opacity="0.38" fill="none"/><circle cx="381.50" cy="286.50" r="1.80" fill="none" stroke="#56B4E9" stroke-width="1.00" stroke-opacity="0.38"/><path d="M383.50 281.50V291.50" stroke="#56B4E9" stroke-width="1.00" stroke-opacity="0.27" fill="none"/><path d="M381.00 281.50H386.00M381.00 291.50H386.00" stroke="#56B4E9" stroke-width="1.00" stroke-opacity="0.38" fill="none"/><circle cx="383.50" cy="286.50" r="1.80" fill="none" stroke="#56B4E9" stroke-width="1.00" stroke-opacity="0.38"/><path d="M385.50 281.50V291.50" stroke="#56B4E9" stroke-width="1.00" stroke-opacity="0.27" fill="none"/><path d="M383.00 281.50H388.00M383.00 291.50H388.00" stroke="#56B4E9" stroke-width="1.00" stroke-opacity="0.38" fill="none"/><circle cx="385.50" cy="286.50" r="1.80" fill="none" stroke="#56B4E9" stroke-width="1.00" stroke-opacity="0.38"/><path d="M387.50 280.50V290.50" stroke="#56B4E9" stroke-width="1.00" stroke-opacity="0.27" fill="none"/><path d="M385.00 280.50H390.00M385.00 290.50H390.00" stroke="#56B4E9" stroke-width="1.00" stroke-opacity="0.38" fill="none"/><circle cx="387.50" cy="285.50" r="1.80" fill="none" stroke="#56B4E9" stroke-width="1.00" stroke-opacity="0.38"/><path d="M389.50 280.50V290.50" stroke="#56B4E9" stroke-width="1.00" stroke-opacity="0.27" fill="none"/><path d="M387.00 280.50H392.00M387.00 290.50H392.00" stroke="#56B4E9" stroke-width="1.00" stroke-opacity="0.38" fill="none"/><circle cx="389.50" cy="285.50" r="1.80" fill="none" stroke="#56B4E9" stroke-width="1.00" stroke-opacity="0.38"/><path d="M391.50 280.50V290.50" stroke="#56B4E9" stroke-width="1.00" stroke-opacity="0.27" fill="none"/><path d="M389.00 280.50H394.00M389.00 290.50H394.00" stroke="#56B4E9" stroke-width="1.00" stroke-opacity="0.38" fill="none"/><circle cx="391.50" cy="285.50" r="1.80" fill="none" stroke="#56B4E9" stroke-width="1.00" stroke-opacity="0.38"/><path d="M393.50 279.50V290.50" stroke="#56B4E9" stroke-width="1.00" stroke-opacity="0.27" fill="none"/><path d="M391.00 279.50H396.00M391.00 290.50H396.00" stroke="#56B4E9" stroke-width="1.00" stroke-opacity="0.38" fill="none"/><circle cx="393.50" cy="285.50" r="1.80" fill="none" stroke="#56B4E9" stroke-width="1.00" stroke-opacity="0.38"/><path d="M395.50 279.50V289.50" stroke="#56B4E9" stroke-width="1.00" stroke-opacity="0.27" fill="none"/><path d="M393.00 279.50H398.00M393.00 289.50H398.00" stroke="#56B4E9" stroke-width="1.00" stroke-opacity="0.38" fill="none"/><circle cx="395.50" cy="284.50" r="1.80" fill="none" stroke="#56B4E9" stroke-width="1.00" stroke-opacity="0.38"/><path d="M401.50 278.50V289.50" stroke="#56B4E9" stroke-width="1.00" stroke-opacity="0.27" fill="none"/><path d="M399.00 278.50H404.00M399.00 289.50H404.00" stroke="#56B4E9" stroke-width="1.00" stroke-opacity="0.38" fill="none"/><circle cx="401.50" cy="283.50" r="1.80" fill="none" stroke="#56B4E9" stroke-width="1.00" stroke-opacity="0.38"/><path d="M403.50 278.50V289.50" stroke="#56B4E9" stroke-width="1.00" stroke-opacity="0.27" fill="none"/><path d="M401.00 278.50H406.00M401.00 289.50H406.00" stroke="#56B4E9" stroke-width="1.00" stroke-opacity="0.38" fill="none"/><circle cx="403.50" cy="283.50" r="1.80" fill="none" stroke="#56B4E9" stroke-width="1.00" stroke-opacity="0.38"/><path d="M405.50 277.50V289.50" stroke="#56B4E9" stroke-width="1.00" stroke-opacity="0.27" fill="none"/><path d="M403.00 277.50H408.00M403.00 289.50H408.00" stroke="#56B4E9" stroke-width="1.00" stroke-opacity="0.38" fill="none"/><circle cx="405.50" cy="283.50" r="1.80" fill="none" stroke="#56B4E9" stroke-width="1.00" stroke-opacity="0.38"/><path d="M407.50 277.50V289.50" stroke="#56B4E9" stroke-width="1.00" stroke-opacity="0.27" fill="none"/><path d="M405.00 277.50H410.00M405.00 289.50H410.00" stroke="#56B4E9" stroke-width="1.00" stroke-opacity="0.38" fill="none"/><circle cx="407.50" cy="283.50" r="1.80" fill="none" stroke="#56B4E9" stroke-width="1.00" stroke-opacity="0.38"/><path d="M412.50 277.50V288.50" stroke="#56B4E9" stroke-width="1.00" stroke-opacity="0.27" fill="none"/><path d="M410.00 277.50H415.00M410.00 288.50H415.00" stroke="#56B4E9" stroke-width="1.00" stroke-opacity="0.38" fill="none"/><circle cx="412.50" cy="282.50" r="1.80" fill="none" stroke="#56B4E9" stroke-width="1.00" stroke-opacity="0.38"/><path d="M414.50 276.50V288.50" stroke="#56B4E9" stroke-width="1.00" stroke-opacity="0.27" fill="none"/><path d="M412.00 276.50H417.00M412.00 288.50H417.00" stroke="#56B4E9" stroke-width="1.00" stroke-opacity="0.38" fill="none"/><circle cx="414.50" cy="282.50" r="1.80" fill="none" stroke="#56B4E9" stroke-width="1.00" stroke-opacity="0.38"/><path d="M416.50 276.50V287.50" stroke="#56B4E9" stroke-width="1.00" stroke-opacity="0.27" fill="none"/><path d="M414.00 276.50H419.00M414.00 287.50H419.00" stroke="#56B4E9" stroke-width="1.00" stroke-opacity="0.38" fill="none"/><circle cx="416.50" cy="282.50" r="1.80" fill="none" stroke="#56B4E9" stroke-width="1.00" stroke-opacity="0.38"/><path d="M418.50 276.50V287.50" stroke="#56B4E9" stroke-width="1.00" stroke-opacity="0.27" fill="none"/><path d="M416.00 276.50H421.00M416.00 287.50H421.00" stroke="#56B4E9" stroke-width="1.00" stroke-opacity="0.38" fill="none"/><circle cx="418.50" cy="281.50" r="1.80" fill="none" stroke="#56B4E9" stroke-width="1.00" stroke-opacity="0.38"/><path d="M420.50 276.50V287.50" stroke="#56B4E9" stroke-width="1.00" stroke-opacity="0.27" fill="none"/><path d="M418.00 276.50H423.00M418.00 287.50H423.00" stroke="#56B4E9" stroke-width="1.00" stroke-opacity="0.38" fill="none"/><circle cx="420.50" cy="281.50" r="1.80" fill="none" stroke="#56B4E9" stroke-width="1.00" stroke-opacity="0.38"/><path d="M422.50 275.50V287.50" stroke="#56B4E9" stroke-width="1.00" stroke-opacity="0.27" fill="none"/><path d="M420.00 275.50H425.00M420.00 287.50H425.00" stroke="#56B4E9" stroke-width="1.00" stroke-opacity="0.38" fill="none"/><circle cx="422.50" cy="281.50" r="1.80" fill="none" stroke="#56B4E9" stroke-width="1.00" stroke-opacity="0.38"/><path d="M424.50 275.50V287.50" stroke="#56B4E9" stroke-width="1.00" stroke-opacity="0.27" fill="none"/><path d="M422.00 275.50H427.00M422.00 287.50H427.00" stroke="#56B4E9" stroke-width="1.00" stroke-opacity="0.38" fill="none"/><circle cx="424.50" cy="281.50" r="1.80" fill="none" stroke="#56B4E9" stroke-width="1.00" stroke-opacity="0.38"/><path d="M429.50 275.50V286.50" stroke="#56B4E9" stroke-width="1.00" stroke-opacity="0.27" fill="none"/><path d="M427.00 275.50H432.00M427.00 286.50H432.00" stroke="#56B4E9" stroke-width="1.00" stroke-opacity="0.38" fill="none"/><circle cx="429.50" cy="281.50" r="1.80" fill="none" stroke="#56B4E9" stroke-width="1.00" stroke-opacity="0.38"/><path d="M434.50 275.50V286.50" stroke="#56B4E9" stroke-width="1.00" stroke-opacity="0.27" fill="none"/><path d="M432.00 275.50H437.00M432.00 286.50H437.00" stroke="#56B4E9" stroke-width="1.00" stroke-opacity="0.38" fill="none"/><circle cx="434.50" cy="280.50" r="1.80" fill="none" stroke="#56B4E9" stroke-width="1.00" stroke-opacity="0.38"/><path d="M438.50 275.50V286.50" stroke="#56B4E9" stroke-width="1.00" stroke-opacity="0.27" fill="none"/><path d="M436.00 275.50H441.00M436.00 286.50H441.00" stroke="#56B4E9" stroke-width="1.00" stroke-opacity="0.38" fill="none"/><circle cx="438.50" cy="280.50" r="1.80" fill="none" stroke="#56B4E9" stroke-width="1.00" stroke-opacity="0.38"/><path d="M443.50 275.50V286.50" stroke="#56B4E9" stroke-width="1.00" stroke-opacity="0.27" fill="none"/><path d="M441.00 275.50H446.00M441.00 286.50H446.00" stroke="#56B4E9" stroke-width="1.00" stroke-opacity="0.38" fill="none"/><circle cx="443.50" cy="280.50" r="1.80" fill="none" stroke="#56B4E9" stroke-width="1.00" stroke-opacity="0.38"/><path d="M446.50 275.50V286.50" stroke="#56B4E9" stroke-width="1.00" stroke-opacity="0.27" fill="none"/><path d="M444.00 275.50H449.00M444.00 286.50H449.00" stroke="#56B4E9" stroke-width="1.00" stroke-opacity="0.38" fill="none"/><circle cx="446.50" cy="280.50" r="1.80" fill="none" stroke="#56B4E9" stroke-width="1.00" stroke-opacity="0.38"/><path d="M448.50 275.50V286.50" stroke="#56B4E9" stroke-width="1.00" stroke-opacity="0.27" fill="none"/><path d="M446.00 275.50H451.00M446.00 286.50H451.00" stroke="#56B4E9" stroke-width="1.00" stroke-opacity="0.38" fill="none"/><circle cx="448.50" cy="280.50" r="1.80" fill="none" stroke="#56B4E9" stroke-width="1.00" stroke-opacity="0.38"/><path d="M450.50 274.50V286.50" stroke="#56B4E9" stroke-width="1.00" stroke-opacity="0.27" fill="none"/><path d="M448.00 274.50H453.00M448.00 286.50H453.00" stroke="#56B4E9" stroke-width="1.00" stroke-opacity="0.38" fill="none"/><circle cx="450.50" cy="280.50" r="1.80" fill="none" stroke="#56B4E9" stroke-width="1.00" stroke-opacity="0.38"/><path d="M452.50 274.50V286.50" stroke="#56B4E9" stroke-width="1.00" stroke-opacity="0.27" fill="none"/><path d="M450.00 274.50H455.00M450.00 286.50H455.00" stroke="#56B4E9" stroke-width="1.00" stroke-opacity="0.38" fill="none"/><circle cx="452.50" cy="280.50" r="1.80" fill="none" stroke="#56B4E9" stroke-width="1.00" stroke-opacity="0.38"/><path d="M455.50 274.50V286.50" stroke="#56B4E9" stroke-width="1.00" stroke-opacity="0.27" fill="none"/><path d="M453.00 274.50H458.00M453.00 286.50H458.00" stroke="#56B4E9" stroke-width="1.00" stroke-opacity="0.38" fill="none"/><circle cx="455.50" cy="280.50" r="1.80" fill="none" stroke="#56B4E9" stroke-width="1.00" stroke-opacity="0.38"/><path d="M457.50 274.50V286.50" stroke="#56B4E9" stroke-width="1.00" stroke-opacity="0.27" fill="none"/><path d="M455.00 274.50H460.00M455.00 286.50H460.00" stroke="#56B4E9" stroke-width="1.00" stroke-opacity="0.38" fill="none"/><circle cx="457.50" cy="280.50" r="1.80" fill="none" stroke="#56B4E9" stroke-width="1.00" stroke-opacity="0.38"/><path d="M459.50 274.50V286.50" stroke="#56B4E9" stroke-width="1.00" stroke-opacity="0.27" fill="none"/><path d="M457.00 274.50H462.00M457.00 286.50H462.00" stroke="#56B4E9" stroke-width="1.00" stroke-opacity="0.38" fill="none"/><circle cx="459.50" cy="280.50" r="1.80" fill="none" stroke="#56B4E9" stroke-width="1.00" stroke-opacity="0.38"/><path d="M462.50 274.50V286.50" stroke="#56B4E9" stroke-width="1.00" stroke-opacity="0.27" fill="none"/><path d="M460.00 274.50H465.00M460.00 286.50H465.00" stroke="#56B4E9" stroke-width="1.00" stroke-opacity="0.38" fill="none"/><circle cx="462.50" cy="280.50" r="1.80" fill="none" stroke="#56B4E9" stroke-width="1.00" stroke-opacity="0.38"/><path d="M464.50 274.50V286.50" stroke="#56B4E9" stroke-width="1.00" stroke-opacity="0.27" fill="none"/><path d="M462.00 274.50H467.00M462.00 286.50H467.00" stroke="#56B4E9" stroke-width="1.00" stroke-opacity="0.38" fill="none"/><circle cx="464.50" cy="280.50" r="1.80" fill="none" stroke="#56B4E9" stroke-width="1.00" stroke-opacity="0.38"/><path d="M466.50 274.50V286.50" stroke="#56B4E9" stroke-width="1.00" stroke-opacity="0.27" fill="none"/><path d="M464.00 274.50H469.00M464.00 286.50H469.00" stroke="#56B4E9" stroke-width="1.00" stroke-opacity="0.38" fill="none"/><circle cx="466.50" cy="280.50" r="1.80" fill="none" stroke="#56B4E9" stroke-width="1.00" stroke-opacity="0.38"/><path d="M468.50 274.50V286.50" stroke="#56B4E9" stroke-width="1.00" stroke-opacity="0.27" fill="none"/><path d="M466.00 274.50H471.00M466.00 286.50H471.00" stroke="#56B4E9" stroke-width="1.00" stroke-opacity="0.38" fill="none"/><circle cx="468.50" cy="280.50" r="1.80" fill="none" stroke="#56B4E9" stroke-width="1.00" stroke-opacity="0.38"/><path d="M470.50 274.50V286.50" stroke="#56B4E9" stroke-width="1.00" stroke-opacity="0.27" fill="none"/><path d="M468.00 274.50H473.00M468.00 286.50H473.00" stroke="#56B4E9" stroke-width="1.00" stroke-opacity="0.38" fill="none"/><circle cx="470.50" cy="280.50" r="1.80" fill="none" stroke="#56B4E9" stroke-width="1.00" stroke-opacity="0.38"/><path d="M472.50 274.50V286.50" stroke="#56B4E9" stroke-width="1.00" stroke-opacity="0.27" fill="none"/><path d="M470.00 274.50H475.00M470.00 286.50H475.00" stroke="#56B4E9" stroke-width="1.00" stroke-opacity="0.38" fill="none"/><circle cx="472.50" cy="280.50" r="1.80" fill="none" stroke="#56B4E9" stroke-width="1.00" stroke-opacity="0.38"/><path d="M474.50 274.50V286.50" stroke="#56B4E9" stroke-width="1.00" stroke-opacity="0.27" fill="none"/><path d="M472.00 274.50H477.00M472.00 286.50H477.00" stroke="#56B4E9" stroke-width="1.00" stroke-opacity="0.38" fill="none"/><circle cx="474.50" cy="280.50" r="1.80" fill="none" stroke="#56B4E9" stroke-width="1.00" stroke-opacity="0.38"/><path d="M476.50 274.50V286.50" stroke="#56B4E9" stroke-width="1.00" stroke-opacity="0.27" fill="none"/><path d="M474.00 274.50H479.00M474.00 286.50H479.00" stroke="#56B4E9" stroke-width="1.00" stroke-opacity="0.38" fill="none"/><circle cx="476.50" cy="280.50" r="1.80" fill="none" stroke="#56B4E9" stroke-width="1.00" stroke-opacity="0.38"/><path d="M478.50 274.50V286.50" stroke="#56B4E9" stroke-width="1.00" stroke-opacity="0.27" fill="none"/><path d="M476.00 274.50H481.00M476.00 286.50H481.00" stroke="#56B4E9" stroke-width="1.00" stroke-opacity="0.38" fill="none"/><circle cx="478.50" cy="280.50" r="1.80" fill="none" stroke="#56B4E9" stroke-width="1.00" stroke-opacity="0.38"/><path d="M480.50 274.50V286.50" stroke="#56B4E9" stroke-width="1.00" stroke-opacity="0.27" fill="none"/><path d="M478.00 274.50H483.00M478.00 286.50H483.00" stroke="#56B4E9" stroke-width="1.00" stroke-opacity="0.38" fill="none"/><circle cx="480.50" cy="280.50" r="1.80" fill="none" stroke="#56B4E9" stroke-width="1.00" stroke-opacity="0.38"/><path d="M482.50 274.50V286.50" stroke="#56B4E9" stroke-width="1.00" stroke-opacity="0.27" fill="none"/><path d="M480.00 274.50H485.00M480.00 286.50H485.00" stroke="#56B4E9" stroke-width="1.00" stroke-opacity="0.38" fill="none"/><circle cx="482.50" cy="280.50" r="1.80" fill="none" stroke="#56B4E9" stroke-width="1.00" stroke-opacity="0.38"/><path d="M484.50 274.50V286.50" stroke="#56B4E9" stroke-width="1.00" stroke-opacity="0.27" fill="none"/><path d="M482.00 274.50H487.00M482.00 286.50H487.00" stroke="#56B4E9" stroke-width="1.00" stroke-opacity="0.38" fill="none"/><circle cx="484.50" cy="280.50" r="1.80" fill="none" stroke="#56B4E9" stroke-width="1.00" stroke-opacity="0.38"/><path d="M485.50 274.50V286.50" stroke="#56B4E9" stroke-width="1.00" stroke-opacity="0.27" fill="none"/><path d="M483.00 274.50H488.00M483.00 286.50H488.00" stroke="#56B4E9" stroke-width="1.00" stroke-opacity="0.38" fill="none"/><circle cx="485.50" cy="280.50" r="1.80" fill="none" stroke="#56B4E9" stroke-width="1.00" stroke-opacity="0.38"/><path d="M487.50 274.50V286.50" stroke="#56B4E9" stroke-width="1.00" stroke-opacity="0.27" fill="none"/><path d="M485.00 274.50H490.00M485.00 286.50H490.00" stroke="#56B4E9" stroke-width="1.00" stroke-opacity="0.38" fill="none"/><circle cx="487.50" cy="280.50" r="1.80" fill="none" stroke="#56B4E9" stroke-width="1.00" stroke-opacity="0.38"/><path d="M489.50 274.50V286.50" stroke="#56B4E9" stroke-width="1.00" stroke-opacity="0.27" fill="none"/><path d="M487.00 274.50H492.00M487.00 286.50H492.00" stroke="#56B4E9" stroke-width="1.00" stroke-opacity="0.38" fill="none"/><circle cx="489.50" cy="280.50" r="1.80" fill="none" stroke="#56B4E9" stroke-width="1.00" stroke-opacity="0.38"/><path d="M491.50 274.50V286.50" stroke="#56B4E9" stroke-width="1.00" stroke-opacity="0.27" fill="none"/><path d="M489.00 274.50H494.00M489.00 286.50H494.00" stroke="#56B4E9" stroke-width="1.00" stroke-opacity="0.38" fill="none"/><circle cx="491.50" cy="280.50" r="1.80" fill="none" stroke="#56B4E9" stroke-width="1.00" stroke-opacity="0.38"/><path d="M492.50 274.50V286.50" stroke="#56B4E9" stroke-width="1.00" stroke-opacity="0.27" fill="none"/><path d="M490.00 274.50H495.00M490.00 286.50H495.00" stroke="#56B4E9" stroke-width="1.00" stroke-opacity="0.38" fill="none"/><circle cx="492.50" cy="280.50" r="1.80" fill="none" stroke="#56B4E9" stroke-width="1.00" stroke-opacity="0.38"/><path d="M493.50 274.50V286.50" stroke="#56B4E9" stroke-width="1.00" stroke-opacity="0.27" fill="none"/><path d="M491.00 274.50H496.00M491.00 286.50H496.00" stroke="#56B4E9" stroke-width="1.00" stroke-opacity="0.38" fill="none"/><circle cx="493.50" cy="280.50" r="1.80" fill="none" stroke="#56B4E9" stroke-width="1.00" stroke-opacity="0.38"/><path d="M495.50 274.50V286.50" stroke="#56B4E9" stroke-width="1.00" stroke-opacity="0.27" fill="none"/><path d="M493.00 274.50H498.00M493.00 286.50H498.00" stroke="#56B4E9" stroke-width="1.00" stroke-opacity="0.38" fill="none"/><circle cx="495.50" cy="280.50" r="1.80" fill="none" stroke="#56B4E9" stroke-width="1.00" stroke-opacity="0.38"/><path d="M496.50 274.50V286.50" stroke="#56B4E9" stroke-width="1.00" stroke-opacity="0.27" fill="none"/><path d="M494.00 274.50H499.00M494.00 286.50H499.00" stroke="#56B4E9" stroke-width="1.00" stroke-opacity="0.38" fill="none"/><circle cx="496.50" cy="280.50" r="1.80" fill="none" stroke="#56B4E9" stroke-width="1.00" stroke-opacity="0.38"/><path d="M498.50 274.50V286.50" stroke="#56B4E9" stroke-width="1.00" stroke-opacity="0.27" fill="none"/><path d="M496.00 274.50H501.00M496.00 286.50H501.00" stroke="#56B4E9" stroke-width="1.00" stroke-opacity="0.38" fill="none"/><circle cx="498.50" cy="280.50" r="1.80" fill="none" stroke="#56B4E9" stroke-width="1.00" stroke-opacity="0.38"/><path d="M499.50 274.50V286.50" stroke="#56B4E9" stroke-width="1.00" stroke-opacity="0.27" fill="none"/><path d="M497.00 274.50H502.00M497.00 286.50H502.00" stroke="#56B4E9" stroke-width="1.00" stroke-opacity="0.38" fill="none"/><circle cx="499.50" cy="280.50" r="1.80" fill="none" stroke="#56B4E9" stroke-width="1.00" stroke-opacity="0.38"/><path d="M501.50 274.50V286.50" stroke="#56B4E9" stroke-width="1.00" stroke-opacity="0.27" fill="none"/><path d="M499.00 274.50H504.00M499.00 286.50H504.00" stroke="#56B4E9" stroke-width="1.00" stroke-opacity="0.38" fill="none"/><circle cx="501.50" cy="280.50" r="1.80" fill="none" stroke="#56B4E9" stroke-width="1.00" stroke-opacity="0.38"/><path d="M502.50 274.50V286.50" stroke="#56B4E9" stroke-width="1.00" stroke-opacity="0.27" fill="none"/><path d="M500.00 274.50H505.00M500.00 286.50H505.00" stroke="#56B4E9" stroke-width="1.00" stroke-opacity="0.38" fill="none"/><circle cx="502.50" cy="280.50" r="1.80" fill="none" stroke="#56B4E9" stroke-width="1.00" stroke-opacity="0.38"/></g>
<path d="M63.90 374.80 L65.40 373.02 L66.90 371.20 L68.41 369.35 L69.91 367.29 L71.41 364.84 L72.91 361.96 L74.41 358.57 L75.92 354.46 L77.42 349.33 L78.92 343.81 L80.42 338.27 L81.92 332.72 L83.43 327.02 L84.93 320.97 L86.43 314.90 L87.93 309.53 L89.44 304.42 L90.94 300.05 L92.44 296.07 L93.94 292.13 L95.44 288.22 L96.95 284.32 L98.45 280.39 L99.95 276.45 L101.45 272.52 L102.95 268.49 L104.46 264.51 L105.96 261.04 L107.46 258.13 L108.96 255.53 L110.46 253.21 L111.97 250.89 L113.47 248.34 L114.97 245.83 L116.47 243.44 L117.97 241.02 L119.48 238.64 L120.98 236.41 L122.48 234.25 L123.98 232.10 L125.49 230.12 L126.99 228.37 L128.49 226.58 L129.99 224.85 L131.49 223.24 L133.00 221.69 L134.50 220.26 L136.00 219.00" fill="none" stroke="#0072B2" stroke-width="1.00" stroke-opacity="0.85" stroke-linejoin="round"/>
<path d="M137.30 217.20 L138.80 216.57 L140.30 215.93 L141.80 214.99 L143.31 213.31 L144.81 211.37 L146.31 209.72 L147.81 208.18 L149.31 206.80 L150.81 205.46 L152.32 203.91 L153.82 202.43 L155.32 201.11 L156.82 199.87 L158.32 198.64 L159.82 197.45 L161.33 196.30 L162.83 195.14 L164.33 193.90 L165.83 192.56 L167.33 191.16 L168.83 189.75 L170.34 188.34 L171.84 186.90 L173.34 185.52 L174.84 184.23 L176.34 183.00 L177.84 181.82 L179.35 180.72 L180.85 179.66 L182.35 178.52 L183.85 177.26 L185.35 175.94 L186.85 174.64 L188.36 173.45 L189.86 172.30 L191.36 171.19 L192.86 170.10 L194.36 168.99 L195.86 167.88 L197.37 166.83 L198.87 165.92 L200.37 165.17 L201.87 164.53 L203.37 163.90 L204.87 163.22 L206.38 162.50 L207.88 161.76 L209.38 161.01 L210.88 160.26 L212.38 159.47 L213.88 158.68 L215.39 157.89 L216.89 157.13 L218.39 156.42 L219.89 155.73 L221.39 155.06 L222.89 154.41 L224.40 153.80 L225.90 153.24 L227.40 152.71 L228.90 152.21 L230.40 151.73 L231.90 151.29 L233.40 150.88 L234.91 150.50 L236.41 150.14 L237.91 149.80 L239.41 149.48 L240.91 149.20 L242.41 148.95 L243.92 148.73 L245.42 148.53 L246.92 148.35 L248.42 148.18 L249.92 148.02 L251.42 147.87 L252.93 147.72 L254.43 147.59 L255.93 147.47 L257.43 147.35 L258.93 147.24 L260.43 147.15 L261.94 147.06 L263.44 146.97 L264.94 146.88 L266.44 146.78 L267.94 146.68 L269.44 146.57 L270.95 146.45 L272.45 146.33 L273.95 146.22 L275.45 146.11 L276.95 146.00 L278.45 145.89 L279.96 145.78 L281.46 145.66 L282.96 145.53 L284.46 145.40 L285.96 145.25 L287.46 145.10 L288.97 144.94 L290.47 144.77 L291.97 144.59 L293.47 144.40 L294.97 144.20 L296.47 143.99 L297.98 143.76 L299.48 143.50 L300.98 143.20 L302.48 142.84 L303.98 142.43 L305.48 142.00 L306.99 141.56 L308.49 141.09 L309.99 140.60 L311.49 140.08 L312.99 139.54 L314.49 138.99 L316.00 138.42 L317.50 137.82 L319.00 137.19 L320.50 136.54 L322.00 135.87 L323.50 135.19 L325.00 134.50 L326.51 133.79 L328.01 133.07 L329.51 132.31 L331.01 131.53 L332.51 130.72 L334.01 129.86 L335.52 128.96 L337.02 128.03 L338.52 127.08 L340.02 126.11 L341.52 125.11 L343.02 124.08 L344.53 123.02 L346.03 121.90 L347.53 120.72 L349.03 119.49 L350.53 118.23 L352.03 116.97 L353.54 115.72 L355.04 114.45 L356.54 113.17 L358.04 111.91 L359.54 110.67 L361.04 109.44 L362.55 108.22 L364.05 107.03 L365.55 105.87 L367.05 104.74 L368.55 103.65 L370.05 102.59 L371.56 101.56 L373.06 100.56 L374.56 99.59 L376.06 98.63 L377.56 97.71 L379.06 96.85 L380.57 96.07 L382.07 95.34 L383.57 94.66 L385.07 94.03 L386.57 93.46 L388.07 92.92 L389.58 92.42 L391.08 91.96 L392.58 91.53 L394.08 91.16 L395.58 90.84 L397.08 90.55 L398.59 90.28 L400.09 89.99 L401.59 89.67 L403.09 89.34 L404.59 89.00 L406.09 88.62 L407.60 88.20 L409.10 87.57 L410.60 86.88 L412.10 86.59 L413.60 86.52 L415.10 86.47 L416.60 86.43 L418.11 86.41 L419.61 86.40 L421.11 86.40 L422.61 86.41 L424.11 86.41 L425.61 86.43 L427.12 86.44 L428.62 86.46 L430.12 86.47 L431.62 86.49 L433.12 86.51 L434.62 86.53 L436.13 86.55 L437.63 86.57 L439.13 86.59 L440.63 86.61 L442.13 86.63 L443.63 86.64 L445.14 86.67 L446.64 86.69 L448.14 86.71 L449.64 86.73 L451.14 86.75 L452.64 86.78 L454.15 86.80 L455.65 86.82 L457.15 86.84 L458.65 86.87 L460.15 86.89 L461.65 86.91 L463.16 86.93 L464.66 86.95 L466.16 86.96 L467.66 86.98 L469.16 86.99 L470.66 87.01 L472.17 87.02 L473.67 87.03 L475.17 87.04 L476.67 87.05 L478.17 87.06 L479.67 87.07 L481.18 87.08 L482.68 87.09 L484.18 87.10 L485.68 87.10 L487.18 87.11 L488.68 87.12 L490.19 87.13 L491.69 87.14 L493.19 87.14 L494.69 87.15 L496.19 87.16 L497.69 87.17 L499.20 87.17 L500.70 87.18 L502.20 87.19 L503.70 87.20" fill="none" stroke="#0072B2" stroke-width="1.00" stroke-opacity="0.85" stroke-linejoin="round"/>
<path d="M62.50 389.00 L64.00 388.71 L65.50 388.41 L67.00 388.07 L68.50 387.69 L70.00 387.27 L71.50 386.80 L73.00 386.28 L74.51 385.73 L76.01 385.13 L77.51 384.45 L79.01 383.60 L80.51 382.63 L82.01 381.58 L83.51 380.43 L85.01 379.21 L86.51 377.97 L88.01 376.67 L89.51 375.34 L91.01 373.98 L92.51 372.60 L94.01 371.20 L95.51 369.80 L97.02 368.37 L98.52 366.91 L100.02 365.49 L101.52 364.10 L103.02 362.76 L104.52 361.47 L106.02 360.20 L107.52 358.93 L109.02 357.70 L110.52 356.48 L112.02 355.28 L113.52 354.09 L115.02 352.96 L116.52 351.89 L118.03 350.86 L119.53 349.88 L121.03 348.96 L122.53 348.09 L124.03 347.27 L125.53 346.49 L127.03 345.74 L128.53 345.02 L130.03 344.34 L131.53 343.69 L133.03 343.08 L134.53 342.49 L136.03 341.88 L137.53 341.27 L139.03 340.65 L140.54 340.01 L142.04 339.35 L143.54 338.69 L145.04 338.02 L146.54 337.37 L148.04 336.71 L149.54 336.06 L151.04 335.41 L152.54 334.77 L154.04 334.14 L155.54 333.53 L157.04 332.93 L158.54 332.34 L160.04 331.76 L161.54 331.20 L163.05 330.64 L164.55 330.10 L166.05 329.57 L167.55 329.05 L169.05 328.55 L170.55 328.06 L172.05 327.57 L173.55 327.10 L175.05 326.64 L176.55 326.18 L178.05 325.74 L179.55 325.31 L181.05 324.88 L182.55 324.47 L184.06 324.06 L185.56 323.65 L187.06 323.25 L188.56 322.86 L190.06 322.49 L191.56 322.12 L193.06 321.76 L194.56 321.42 L196.06 321.08 L197.56 320.75 L199.06 320.44 L200.56 320.14 L202.06 319.85 L203.56 319.55 L205.06 319.25 L206.57 318.93 L208.07 318.61 L209.57 318.28 L211.07 317.95 L212.57 317.62 L214.07 317.30 L215.57 316.98 L217.07 316.65 L218.57 316.32 L220.07 316.00 L221.57 315.69 L223.07 315.39 L224.57 315.09 L226.07 314.80 L227.57 314.51 L229.08 314.24 L230.58 313.98 L232.08 313.73 L233.58 313.50 L235.08 313.28 L236.58 313.06 L238.08 312.86 L239.58 312.67 L241.08 312.50 L242.58 312.34 L244.08 312.19 L245.58 312.05 L247.08 311.91 L248.58 311.78 L250.09 311.66 L251.59 311.55 L253.09 311.44 L254.59 311.34 L256.09 311.24 L257.59 311.14 L259.09 311.04 L260.59 310.96 L262.09 310.90 L263.59 310.84 L265.09 310.79 L266.59 310.74 L268.09 310.70 L269.59 310.65 L271.09 310.61 L272.60 310.58 L274.10 310.54 L275.60 310.51 L277.10 310.49 L278.60 310.47 L280.10 310.45 L281.60 310.43 L283.10 310.41 L284.60 310.39 L286.10 310.33 L287.60 310.26 L289.10 310.18 L290.60 310.10 L292.10 310.02 L293.60 309.94 L295.11 309.87 L296.61 309.79 L298.11 309.72 L299.61 309.64 L301.11 309.57 L302.61 309.48 L304.11 309.39 L305.61 309.31 L307.11 309.25 L308.61 309.17 L310.11 309.08 L311.61 308.99 L313.11 308.88 L314.61 308.77 L316.11 308.65 L317.62 308.52 L319.12 308.37 L320.62 308.20 L322.12 308.03 L323.62 307.84 L325.12 307.65 L326.62 307.45 L328.12 307.24 L329.62 307.03 L331.12 306.81 L332.62 306.58 L334.12 306.35 L335.62 306.10 L337.12 305.85 L338.63 305.59 L340.13 305.32 L341.63 305.03 L343.13 304.75 L344.63 304.46 L346.13 304.17 L347.63 303.87 L349.13 303.58 L350.63 303.28 L352.13 302.97 L353.63 302.67 L355.13 302.36 L356.63 302.06 L358.13 301.76 L359.63 301.46 L361.14 301.16 L362.64 300.85 L364.14 300.55 L365.64 300.26 L367.14 299.99 L368.64 299.73 L370.14 299.47 L371.64 299.23 L373.14 298.99 L374.64 298.76 L376.14 298.55 L377.64 298.34 L379.14 298.14 L380.64 297.90 L382.14 297.61 L383.65 297.33 L385.15 297.06 L386.65 296.80 L388.15 296.55 L389.65 296.30 L391.15 296.07 L392.65 295.84 L394.15 295.61 L395.65 295.34 L397.15 295.08 L398.65 294.81 L400.15 294.56 L401.65 294.30 L403.15 294.05 L404.66 293.79 L406.16 293.52 L407.66 293.26 L409.16 293.00 L410.66 292.76 L412.16 292.51 L413.66 292.27 L415.16 292.04 L416.66 291.82 L418.16 291.60 L419.66 291.40 L421.16 291.20 L422.66 291.01 L424.16 290.90 L425.66 290.82 L427.17 290.74 L428.67 290.67 L430.17 290.59 L431.67 290.53 L433.17 290.46 L434.67 290.40 L436.17 290.34 L437.67 290.29 L439.17 290.23 L440.67 290.18 L442.17 290.16 L443.67 290.13 L445.17 290.10 L446.67 290.08 L448.17 290.06 L449.68 290.04 L451.18 290.03 L452.68 290.01 L454.18 290.00 L455.68 290.00 L457.18 289.99 L458.68 289.99 L460.18 289.98 L461.68 289.98 L463.18 289.97 L464.68 289.97 L466.18 289.96 L467.68 289.96 L469.18 289.96 L470.69 289.95 L472.19 289.95 L473.69 289.95 L475.19 289.94 L476.69 289.94 L478.19 289.94 L479.69 289.94 L481.19 289.94 L482.69 289.93 L484.19 289.93 L485.69 289.93 L487.19 289.93 L488.69 289.92 L490.19 289.92 L491.69 289.92 L493.20 289.92 L494.70 289.92 L496.20 289.91 L497.70 289.91 L499.20 289.91 L500.70 289.91 L502.20 289.90 L503.70 289.90" fill="none" stroke="#E69F00" stroke-width="1.00" stroke-opacity="0.85" stroke-linejoin="round"/>
<rect x="45.62" y="13.68" width="488.80" height="377.74" fill="none" stroke="#000" stroke-width="1.1"/>
</svg>
</body></html>
